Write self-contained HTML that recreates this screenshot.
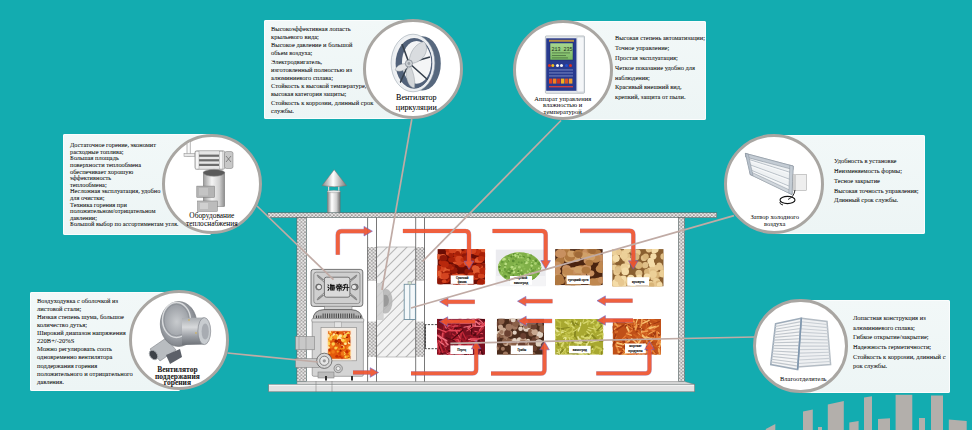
<!DOCTYPE html>
<html><head><meta charset="utf-8"><style>
*{margin:0;padding:0;box-sizing:border-box}
html,body{width:972px;height:430px;overflow:hidden;background:#13acb0;font-family:"Liberation Serif",serif}
.box{position:absolute;background:linear-gradient(180deg,#f2f8f8 0%,#edf5f5 100%);border-radius:2px;box-shadow:inset 0 0 0 1px #fbfdfd}
.circ{position:absolute;border-radius:50%;background:#fff;border:3.1px solid #a9a6a2}
.t{position:absolute;white-space:nowrap}
svg{position:absolute;left:0;top:0}
</style></head><body>
<svg width="972" height="430" style="z-index:0"><polygon points="765.8,429 775.3,424 775.3,431 765.8,431" fill="#b3afab"/>
<polygon points="803,411.5 812.8,409.4 812.8,431 803,431" fill="#b3afab"/>
<polygon points="818,427 822,427 822,431 818,431" fill="#b3afab"/>
<polygon points="827.8,404.6 843.8,401 843.8,431 827.8,431" fill="#b3afab"/>
<polygon points="849.3,422.5 858.6,421 858.6,431 849.3,431" fill="#b3afab"/>
<polygon points="864,397.4 872,396.2 872,431 864,431" fill="#b3afab"/>
<polygon points="878,419 890,418.2 890,431 878,431" fill="#b3afab"/>
<polygon points="895.6,394.8 912.3,394.8 912.3,431 895.6,431" fill="#b3afab"/>
<polygon points="919,418 925,418 925,431 919,431" fill="#b3afab"/>
<polygon points="931,395.5 943,395.5 943,431 931,431" fill="#b3afab"/>
<polygon points="948.8,419.4 966.7,421 966.7,431 948.8,431" fill="#b3afab"/><defs>
<pattern id="dots" width="3.6" height="3.4" patternUnits="userSpaceOnUse">
<rect width="3.6" height="3.4" fill="#b8b6b4"/>
<circle cx="0.9" cy="0.85" r="1.3" fill="#fdfdfd" stroke="#5e5c5a" stroke-width="0.35"/><circle cx="2.7" cy="2.55" r="1.3" fill="#fdfdfd" stroke="#5e5c5a" stroke-width="0.35"/>
</pattern>
<pattern id="hatch" width="7" height="7" patternUnits="userSpaceOnUse" patternTransform="rotate(45)">
<rect width="7" height="7" fill="#f2f2f2"/>
<line x1="0" y1="0" x2="0" y2="7" stroke="#5e5e5e" stroke-width="0.85"/>
</pattern>
<linearGradient id="cyl" x1="0" x2="1" y1="0" y2="0">
<stop offset="0" stop-color="#7a7a7a"/><stop offset="0.35" stop-color="#ffffff"/><stop offset="0.7" stop-color="#d0d0d0"/><stop offset="1" stop-color="#6a6a6a"/>
</linearGradient>
<linearGradient id="cone" x1="0" x2="1" y1="0" y2="0">
<stop offset="0" stop-color="#8a8a8a"/><stop offset="0.45" stop-color="#ffffff"/><stop offset="1" stop-color="#7a7a7a"/>
</linearGradient>
<radialGradient id="fire" cx="0.5" cy="0.5" r="0.5">
<stop offset="0" stop-color="#d83000"/><stop offset="0.5" stop-color="#f07000"/><stop offset="0.85" stop-color="#f8b040"/><stop offset="1" stop-color="#fbe8c8"/>
</radialGradient>
</defs>
<rect x="306.5" y="217.5" width="372.2" height="165" fill="#ffffff"/>
<rect x="328" y="185" width="1.2" height="8" fill="#d8d8d8"/><rect x="338.2" y="185" width="1.2" height="8" fill="#d8d8d8"/>
<rect x="327.2" y="191.3" width="13.2" height="21.5" fill="url(#cyl)"/>
<ellipse cx="333.8" cy="191.5" rx="6.6" ry="1.2" fill="#e8e8e8" stroke="#888" stroke-width="0.4"/>
<path d="M334.2,169.7 L346.5,185.6 Q334.3,188 322.1,185.6 Z" fill="url(#cone)" stroke="#8a6a66" stroke-width="0.5"/>
<rect x="267.8" y="212.8" width="449" height="4.9" fill="url(#dots)" stroke="#555" stroke-width="0.5"/>
<rect x="296.9" y="217.6" width="9.7" height="164" fill="url(#dots)" stroke="#555" stroke-width="0.5"/>
<rect x="678.4" y="217.6" width="6.3" height="164" fill="url(#dots)" stroke="#555" stroke-width="0.5"/>
<polygon points="297,381.6 684.8,381.6 694.7,384.4 297,384.4" fill="#dadada" stroke="#777" stroke-width="0.5"/>
<rect x="268.7" y="384.4" width="426" height="7.4" fill="#e2e2e2" stroke="#777" stroke-width="0.6"/>
<line x1="269" y1="385.3" x2="694" y2="385.3" stroke="#f8f8f8" stroke-width="1"/>
<rect x="376.6" y="247" width="39" height="110" fill="url(#hatch)"/>
<line x1="376.6" y1="247" x2="415.6" y2="247" stroke="#aaa" stroke-width="0.7"/>
<line x1="376.6" y1="357" x2="415.6" y2="357" stroke="#aaa" stroke-width="0.7"/>
<rect x="367.6" y="247" width="8.9" height="33.8" fill="url(#dots)"/>
<rect x="367.6" y="321.6" width="8.9" height="35.4" fill="url(#dots)"/>
<rect x="415.7" y="247" width="8.8" height="33.8" fill="url(#dots)"/>
<rect x="415.7" y="321.6" width="8.8" height="35.4" fill="url(#dots)"/>
<line x1="367.6" y1="217.6" x2="367.6" y2="381.6" stroke="#555" stroke-width="0.8"/>
<line x1="376.5" y1="217.6" x2="376.5" y2="381.6" stroke="#555" stroke-width="0.8"/>
<line x1="415.7" y1="217.6" x2="415.7" y2="381.6" stroke="#555" stroke-width="0.8"/>
<line x1="424.5" y1="217.6" x2="424.5" y2="381.6" stroke="#555" stroke-width="0.8"/>
<rect x="376.7" y="283" width="7" height="37" fill="#cfcfcf" opacity="0.85"/>
<path d="M383,290 Q388,287 391,293 Q394,301 391,309 Q388,315 383,313 Z" fill="#b4b4b4" opacity="0.85"/>
<path d="M384,295 Q388,294 389,300 Q389,306 384,307 Z" fill="#8c8c8c" opacity="0.7"/>
<rect x="404.2" y="284.3" width="11.2" height="35.2" fill="#f4f8fa" stroke="#6f8f9f" stroke-width="0.9"/>
<line x1="409.8" y1="284.3" x2="409.8" y2="319.5" stroke="#6f8f9f" stroke-width="0.8"/>
<rect x="408" y="281.5" width="3.5" height="3" fill="#cfe0c8" stroke="#889" stroke-width="0.4"/>
<path d="M437,324.6 L425.3,324.6 L425.3,348.7 L437,348.7" fill="none" stroke="#333" stroke-width="0.9" stroke-dasharray="2.2,1.3"/>
<line x1="425.3" y1="324.6" x2="425.3" y2="348.7" stroke="#333" stroke-width="0.8"/>
<clipPath id="cp1"><rect x="437.4" y="249.1" width="47.7" height="35.3"/></clipPath><g clip-path="url(#cp1)"><rect x="437.4" y="249.1" width="47.7" height="35.3" fill="#6a0c04"/><ellipse cx="443.8" cy="279.0" rx="3.8" ry="3.0" fill="#d44420"/><ellipse cx="443.0" cy="276.0" rx="3.2" ry="2.6" fill="#901808"/><ellipse cx="475.0" cy="252.4" rx="2.3" ry="1.8" fill="#901808"/><ellipse cx="458.0" cy="276.0" rx="2.3" ry="1.8" fill="#901808"/><ellipse cx="450.1" cy="277.4" rx="3.4" ry="2.7" fill="#c03010"/><ellipse cx="480.4" cy="250.2" rx="2.3" ry="1.8" fill="#e05a30"/><ellipse cx="437.8" cy="280.2" rx="3.6" ry="2.9" fill="#901808"/><ellipse cx="472.0" cy="267.7" rx="3.8" ry="3.0" fill="#901808"/><ellipse cx="463.8" cy="261.3" rx="3.6" ry="2.9" fill="#901808"/><ellipse cx="482.8" cy="281.8" rx="3.1" ry="2.5" fill="#e05a30"/><ellipse cx="481.4" cy="252.6" rx="3.5" ry="2.8" fill="#b8280c"/><ellipse cx="478.4" cy="253.4" rx="2.9" ry="2.3" fill="#b8280c"/><ellipse cx="483.8" cy="266.8" rx="4.2" ry="3.3" fill="#e05a30"/><ellipse cx="477.0" cy="272.8" rx="2.9" ry="2.3" fill="#e05a30"/><ellipse cx="483.8" cy="266.7" rx="4.1" ry="3.3" fill="#901808"/><ellipse cx="465.5" cy="250.3" rx="2.7" ry="2.2" fill="#901808"/><ellipse cx="457.2" cy="255.2" rx="3.3" ry="2.7" fill="#b8280c"/><ellipse cx="474.4" cy="275.2" rx="2.4" ry="1.9" fill="#b8280c"/><ellipse cx="461.7" cy="276.6" rx="3.3" ry="2.6" fill="#901808"/><ellipse cx="455.1" cy="275.0" rx="3.2" ry="2.6" fill="#d44420"/><ellipse cx="471.0" cy="283.8" rx="3.4" ry="2.7" fill="#901808"/><ellipse cx="468.3" cy="255.1" rx="2.7" ry="2.2" fill="#c03010"/><ellipse cx="474.2" cy="268.1" rx="4.0" ry="3.2" fill="#a82008"/><ellipse cx="456.7" cy="261.2" rx="3.9" ry="3.2" fill="#d44420"/><ellipse cx="459.3" cy="258.6" rx="3.3" ry="2.7" fill="#b8280c"/><ellipse cx="437.7" cy="276.8" rx="3.9" ry="3.1" fill="#b8280c"/><ellipse cx="461.8" cy="253.7" rx="3.8" ry="3.0" fill="#a82008"/><ellipse cx="457.7" cy="251.1" rx="4.0" ry="3.2" fill="#e05a30"/><ellipse cx="463.8" cy="282.3" rx="3.1" ry="2.5" fill="#d44420"/><ellipse cx="457.2" cy="249.2" rx="3.3" ry="2.7" fill="#e05a30"/><ellipse cx="453.2" cy="270.3" rx="3.9" ry="3.1" fill="#b8280c"/><ellipse cx="445.9" cy="269.7" rx="4.0" ry="3.2" fill="#e05a30"/><ellipse cx="475.4" cy="277.9" rx="2.8" ry="2.2" fill="#b8280c"/><ellipse cx="440.8" cy="279.7" rx="3.2" ry="2.5" fill="#d44420"/><ellipse cx="449.3" cy="253.0" rx="3.5" ry="2.8" fill="#d44420"/><ellipse cx="451.2" cy="255.0" rx="2.8" ry="2.2" fill="#a82008"/><ellipse cx="468.7" cy="272.0" rx="2.8" ry="2.3" fill="#b8280c"/><ellipse cx="452.8" cy="265.8" rx="2.3" ry="1.8" fill="#901808"/><ellipse cx="453.8" cy="277.2" rx="2.8" ry="2.2" fill="#d44420"/><ellipse cx="480.3" cy="267.1" rx="2.7" ry="2.1" fill="#e05a30"/><ellipse cx="458.0" cy="283.5" rx="2.7" ry="2.2" fill="#901808"/><ellipse cx="444.4" cy="274.5" rx="2.6" ry="2.1" fill="#b8280c"/><ellipse cx="461.6" cy="264.2" rx="3.9" ry="3.1" fill="#b8280c"/><ellipse cx="475.5" cy="267.3" rx="2.7" ry="2.2" fill="#b8280c"/><ellipse cx="438.9" cy="272.9" rx="3.9" ry="3.1" fill="#b8280c"/><ellipse cx="467.5" cy="251.2" rx="2.8" ry="2.3" fill="#a82008"/><ellipse cx="479.2" cy="259.9" rx="4.0" ry="3.2" fill="#d44420"/><ellipse cx="481.1" cy="259.6" rx="2.6" ry="2.1" fill="#e05a30"/><ellipse cx="449.4" cy="249.4" rx="4.0" ry="3.2" fill="#c03010"/><ellipse cx="465.6" cy="256.8" rx="4.1" ry="3.2" fill="#901808"/><ellipse cx="445.6" cy="279.7" rx="4.2" ry="3.4" fill="#b8280c"/><ellipse cx="467.1" cy="250.4" rx="2.7" ry="2.1" fill="#c03010"/><ellipse cx="447.2" cy="272.9" rx="3.1" ry="2.5" fill="#a82008"/><ellipse cx="460.9" cy="282.2" rx="3.0" ry="2.4" fill="#e05a30"/><ellipse cx="461.2" cy="260.6" rx="4.0" ry="3.2" fill="#d44420"/><ellipse cx="438.3" cy="256.2" rx="2.9" ry="2.3" fill="#e05a30"/><ellipse cx="474.7" cy="261.1" rx="2.7" ry="2.1" fill="#b8280c"/><ellipse cx="442.0" cy="262.5" rx="3.3" ry="2.7" fill="#b8280c"/><ellipse cx="462.9" cy="276.2" rx="3.3" ry="2.7" fill="#c03010"/><ellipse cx="472.0" cy="252.1" rx="2.6" ry="2.1" fill="#e05a30"/><ellipse cx="447.6" cy="275.9" rx="3.5" ry="2.8" fill="#d44420"/><ellipse cx="455.0" cy="261.1" rx="2.8" ry="2.3" fill="#e05a30"/><ellipse cx="474.6" cy="274.3" rx="3.2" ry="2.6" fill="#e05a30"/><ellipse cx="463.7" cy="252.8" rx="2.3" ry="1.9" fill="#c03010"/><ellipse cx="455.5" cy="284.1" rx="2.5" ry="2.0" fill="#a82008"/><ellipse cx="453.7" cy="270.8" rx="3.8" ry="3.1" fill="#901808"/><ellipse cx="441.1" cy="268.5" rx="3.4" ry="2.7" fill="#d44420"/><ellipse cx="454.8" cy="259.5" rx="3.3" ry="2.7" fill="#c03010"/><ellipse cx="459.2" cy="258.9" rx="3.8" ry="3.1" fill="#d44420"/><ellipse cx="438.0" cy="272.8" rx="2.4" ry="1.9" fill="#c03010"/><ellipse cx="476.8" cy="277.0" rx="2.6" ry="2.1" fill="#e05a30"/><ellipse cx="457.5" cy="253.2" rx="2.6" ry="2.1" fill="#a82008"/><ellipse cx="445.0" cy="278.9" rx="3.1" ry="2.5" fill="#901808"/><ellipse cx="475.9" cy="268.3" rx="3.9" ry="3.1" fill="#e05a30"/><ellipse cx="449.5" cy="265.9" rx="2.5" ry="2.0" fill="#b8280c"/><ellipse cx="452.5" cy="250.1" rx="3.8" ry="3.1" fill="#d44420"/><ellipse cx="472.1" cy="260.4" rx="3.0" ry="2.4" fill="#901808"/><ellipse cx="440.4" cy="281.3" rx="4.2" ry="3.4" fill="#901808"/><ellipse cx="442.7" cy="256.7" rx="3.5" ry="2.8" fill="#e05a30"/><ellipse cx="478.8" cy="265.7" rx="3.0" ry="2.4" fill="#a82008"/><ellipse cx="463.2" cy="259.9" rx="2.7" ry="2.2" fill="#c03010"/><ellipse cx="476.5" cy="252.3" rx="3.8" ry="3.0" fill="#c03010"/><ellipse cx="468.5" cy="271.8" rx="4.1" ry="3.3" fill="#901808"/><ellipse cx="483.5" cy="250.5" rx="2.6" ry="2.1" fill="#e05a30"/><ellipse cx="480.0" cy="259.8" rx="2.9" ry="2.3" fill="#e05a30"/><ellipse cx="466.6" cy="277.6" rx="2.4" ry="1.9" fill="#a82008"/><ellipse cx="438.4" cy="257.7" rx="2.4" ry="1.9" fill="#e05a30"/><ellipse cx="478.8" cy="274.8" rx="2.3" ry="1.8" fill="#c03010"/><ellipse cx="451.3" cy="277.1" rx="3.2" ry="2.6" fill="#a82008"/><ellipse cx="442.2" cy="276.6" rx="2.9" ry="2.3" fill="#e05a30"/><ellipse cx="482.7" cy="255.2" rx="3.8" ry="3.0" fill="#a82008"/><ellipse cx="476.6" cy="260.4" rx="2.5" ry="2.0" fill="#e05a30"/><ellipse cx="477.2" cy="270.3" rx="2.5" ry="2.0" fill="#a82008"/><ellipse cx="444.2" cy="281.2" rx="2.3" ry="1.9" fill="#d44420"/><ellipse cx="476.6" cy="271.1" rx="3.6" ry="2.9" fill="#e05a30"/><ellipse cx="477.5" cy="275.4" rx="3.6" ry="2.9" fill="#a82008"/><ellipse cx="451.7" cy="268.1" rx="2.3" ry="1.9" fill="#b8280c"/><ellipse cx="449.2" cy="276.6" rx="3.6" ry="2.9" fill="#901808"/><ellipse cx="476.0" cy="268.5" rx="3.3" ry="2.7" fill="#e05a30"/><ellipse cx="459.0" cy="263.1" rx="2.9" ry="2.3" fill="#d44420"/><ellipse cx="460.6" cy="277.1" rx="4.1" ry="3.3" fill="#e05a30"/><ellipse cx="438.3" cy="273.5" rx="3.4" ry="2.7" fill="#e05a30"/><ellipse cx="443.4" cy="258.2" rx="3.9" ry="3.1" fill="#901808"/><ellipse cx="464.3" cy="255.2" rx="2.4" ry="1.9" fill="#901808"/><ellipse cx="437.8" cy="267.8" rx="3.3" ry="2.6" fill="#b8280c"/><ellipse cx="481.3" cy="281.9" rx="3.5" ry="2.8" fill="#a82008"/><ellipse cx="448.8" cy="266.6" rx="3.2" ry="2.6" fill="#a82008"/><ellipse cx="471.4" cy="261.0" rx="3.5" ry="2.8" fill="#b8280c"/><ellipse cx="481.2" cy="258.8" rx="3.5" ry="2.8" fill="#c03010"/><ellipse cx="481.4" cy="276.0" rx="3.5" ry="2.8" fill="#d44420"/><ellipse cx="445.0" cy="276.1" rx="4.0" ry="3.2" fill="#d44420"/><ellipse cx="451.6" cy="259.7" rx="3.4" ry="2.7" fill="#a82008"/><ellipse cx="470.9" cy="275.1" rx="3.4" ry="2.8" fill="#c03010"/><ellipse cx="480.2" cy="283.0" rx="3.4" ry="2.7" fill="#a82008"/><ellipse cx="444.8" cy="264.2" rx="4.1" ry="3.3" fill="#b8280c"/><ellipse cx="473.5" cy="250.9" rx="3.6" ry="2.9" fill="#b8280c"/><ellipse cx="467.8" cy="262.7" rx="3.9" ry="3.2" fill="#e05a30"/><ellipse cx="472.2" cy="250.5" rx="4.2" ry="3.4" fill="#d44420"/><ellipse cx="467.4" cy="258.5" rx="4.1" ry="3.3" fill="#a82008"/><ellipse cx="483.6" cy="270.9" rx="4.2" ry="3.3" fill="#b8280c"/></g>
<rect x="495.8" y="249.6" width="49.9" height="36.5" fill="#ebebef"/>
<rect x="495.8" y="276" width="49.9" height="10.1" fill="#f4f4f6"/>
<clipPath id="cpg"><ellipse cx="519.6" cy="267.5" rx="21.6" ry="15.2"/></clipPath>
<clipPath id="cp2"><rect x="497" y="250" width="46" height="32"/></clipPath><g clip-path="url(#cpg)"><rect x="497" y="250" width="46" height="32" fill="#80b048"/><ellipse cx="541.0" cy="280.3" rx="0.7" ry="0.7" fill="#a8d070"/><ellipse cx="513.6" cy="255.4" rx="1.3" ry="1.3" fill="#bce084"/><ellipse cx="508.6" cy="256.8" rx="0.7" ry="0.7" fill="#689c38"/><ellipse cx="543.0" cy="270.4" rx="1.3" ry="1.3" fill="#5a8c30"/><ellipse cx="540.7" cy="267.4" rx="1.1" ry="1.1" fill="#bce084"/><ellipse cx="538.5" cy="277.9" rx="1.0" ry="1.0" fill="#bce084"/><ellipse cx="538.8" cy="263.6" rx="1.4" ry="1.4" fill="#689c38"/><ellipse cx="522.8" cy="257.6" rx="0.7" ry="0.7" fill="#bce084"/><ellipse cx="505.0" cy="266.3" rx="1.0" ry="1.0" fill="#5a8c30"/><ellipse cx="528.0" cy="255.8" rx="1.4" ry="1.4" fill="#8cbc54"/><ellipse cx="530.8" cy="279.0" rx="1.3" ry="1.3" fill="#5a8c30"/><ellipse cx="513.3" cy="281.4" rx="1.5" ry="1.5" fill="#689c38"/><ellipse cx="540.9" cy="262.8" rx="1.3" ry="1.3" fill="#5a8c30"/><ellipse cx="508.5" cy="258.9" rx="1.1" ry="1.1" fill="#5a8c30"/><ellipse cx="535.3" cy="261.3" rx="1.4" ry="1.4" fill="#8cbc54"/><ellipse cx="513.1" cy="273.2" rx="1.1" ry="1.1" fill="#8cbc54"/><ellipse cx="519.4" cy="257.1" rx="1.0" ry="1.0" fill="#689c38"/><ellipse cx="537.3" cy="269.7" rx="1.3" ry="1.3" fill="#8cbc54"/><ellipse cx="511.2" cy="280.6" rx="1.3" ry="1.3" fill="#5a8c30"/><ellipse cx="522.9" cy="266.2" rx="1.2" ry="1.2" fill="#8cbc54"/><ellipse cx="511.3" cy="256.7" rx="1.1" ry="1.1" fill="#5a8c30"/><ellipse cx="537.6" cy="275.1" rx="1.0" ry="1.0" fill="#a8d070"/><ellipse cx="538.8" cy="256.1" rx="1.3" ry="1.3" fill="#a8d070"/><ellipse cx="523.4" cy="251.6" rx="1.2" ry="1.2" fill="#a8d070"/><ellipse cx="531.7" cy="254.4" rx="0.9" ry="0.9" fill="#689c38"/><ellipse cx="540.4" cy="251.9" rx="1.4" ry="1.4" fill="#a8d070"/><ellipse cx="499.6" cy="261.5" rx="0.9" ry="0.9" fill="#a8d070"/><ellipse cx="500.8" cy="280.5" rx="0.7" ry="0.7" fill="#a8d070"/><ellipse cx="514.2" cy="254.1" rx="1.4" ry="1.4" fill="#689c38"/><ellipse cx="521.1" cy="250.1" rx="1.2" ry="1.2" fill="#689c38"/><ellipse cx="504.0" cy="251.2" rx="1.0" ry="1.0" fill="#5a8c30"/><ellipse cx="525.9" cy="273.9" rx="0.9" ry="0.9" fill="#8cbc54"/><ellipse cx="498.4" cy="264.4" rx="1.3" ry="1.3" fill="#a8d070"/><ellipse cx="538.5" cy="274.2" rx="1.4" ry="1.4" fill="#689c38"/><ellipse cx="518.7" cy="257.2" rx="1.2" ry="1.2" fill="#bce084"/><ellipse cx="535.6" cy="250.8" rx="1.3" ry="1.3" fill="#689c38"/><ellipse cx="520.8" cy="275.0" rx="1.1" ry="1.1" fill="#bce084"/><ellipse cx="503.6" cy="280.7" rx="0.9" ry="0.9" fill="#5a8c30"/><ellipse cx="541.7" cy="270.9" rx="1.3" ry="1.3" fill="#689c38"/><ellipse cx="527.8" cy="258.1" rx="0.8" ry="0.8" fill="#689c38"/><ellipse cx="501.4" cy="270.3" rx="1.1" ry="1.1" fill="#a8d070"/><ellipse cx="542.7" cy="257.4" rx="1.1" ry="1.1" fill="#bce084"/><ellipse cx="500.7" cy="257.3" rx="1.3" ry="1.3" fill="#5a8c30"/><ellipse cx="529.6" cy="258.2" rx="1.0" ry="1.0" fill="#5a8c30"/><ellipse cx="531.5" cy="254.8" rx="1.0" ry="1.0" fill="#689c38"/><ellipse cx="502.1" cy="273.2" rx="0.9" ry="0.9" fill="#a8d070"/><ellipse cx="497.9" cy="274.0" rx="0.8" ry="0.8" fill="#a8d070"/><ellipse cx="521.0" cy="264.9" rx="0.9" ry="0.9" fill="#8cbc54"/><ellipse cx="506.8" cy="279.0" rx="1.5" ry="1.5" fill="#8cbc54"/><ellipse cx="516.6" cy="250.7" rx="1.2" ry="1.2" fill="#8cbc54"/><ellipse cx="539.7" cy="268.6" rx="1.4" ry="1.4" fill="#8cbc54"/><ellipse cx="513.8" cy="266.6" rx="1.4" ry="1.4" fill="#5a8c30"/><ellipse cx="513.9" cy="272.1" rx="1.4" ry="1.4" fill="#bce084"/><ellipse cx="497.9" cy="271.9" rx="0.8" ry="0.8" fill="#bce084"/><ellipse cx="506.1" cy="274.8" rx="1.4" ry="1.4" fill="#8cbc54"/><ellipse cx="499.8" cy="270.4" rx="1.1" ry="1.1" fill="#5a8c30"/><ellipse cx="525.2" cy="250.2" rx="0.7" ry="0.7" fill="#bce084"/><ellipse cx="540.0" cy="252.4" rx="1.3" ry="1.3" fill="#689c38"/><ellipse cx="502.3" cy="261.9" rx="1.3" ry="1.3" fill="#689c38"/><ellipse cx="531.7" cy="262.6" rx="0.8" ry="0.8" fill="#a8d070"/><ellipse cx="502.7" cy="269.7" rx="1.0" ry="1.0" fill="#8cbc54"/><ellipse cx="541.1" cy="272.2" rx="0.7" ry="0.7" fill="#8cbc54"/><ellipse cx="532.8" cy="273.2" rx="1.1" ry="1.1" fill="#bce084"/><ellipse cx="541.1" cy="254.5" rx="1.0" ry="1.0" fill="#8cbc54"/><ellipse cx="521.2" cy="265.3" rx="1.5" ry="1.5" fill="#8cbc54"/><ellipse cx="539.9" cy="276.8" rx="0.9" ry="0.9" fill="#689c38"/><ellipse cx="504.2" cy="269.1" rx="1.1" ry="1.1" fill="#a8d070"/><ellipse cx="524.0" cy="276.2" rx="0.8" ry="0.8" fill="#bce084"/><ellipse cx="505.1" cy="267.4" rx="1.3" ry="1.3" fill="#a8d070"/><ellipse cx="533.7" cy="279.2" rx="1.2" ry="1.2" fill="#a8d070"/><ellipse cx="502.9" cy="259.5" rx="0.9" ry="0.9" fill="#bce084"/><ellipse cx="517.2" cy="266.8" rx="0.8" ry="0.8" fill="#5a8c30"/><ellipse cx="542.4" cy="281.0" rx="1.0" ry="1.0" fill="#bce084"/><ellipse cx="520.8" cy="272.9" rx="0.9" ry="0.9" fill="#689c38"/><ellipse cx="518.2" cy="272.5" rx="1.0" ry="1.0" fill="#bce084"/><ellipse cx="533.0" cy="268.4" rx="0.8" ry="0.8" fill="#8cbc54"/><ellipse cx="530.1" cy="275.9" rx="1.0" ry="1.0" fill="#689c38"/><ellipse cx="515.1" cy="251.7" rx="0.9" ry="0.9" fill="#bce084"/><ellipse cx="529.7" cy="280.0" rx="1.3" ry="1.3" fill="#8cbc54"/><ellipse cx="513.6" cy="267.5" rx="1.3" ry="1.3" fill="#a8d070"/><ellipse cx="532.0" cy="277.3" rx="0.9" ry="0.9" fill="#5a8c30"/><ellipse cx="505.6" cy="276.1" rx="1.0" ry="1.0" fill="#a8d070"/><ellipse cx="511.4" cy="266.8" rx="1.4" ry="1.4" fill="#8cbc54"/><ellipse cx="526.9" cy="276.1" rx="0.7" ry="0.7" fill="#689c38"/><ellipse cx="530.6" cy="269.4" rx="1.4" ry="1.4" fill="#a8d070"/><ellipse cx="514.9" cy="267.8" rx="1.3" ry="1.3" fill="#bce084"/><ellipse cx="531.2" cy="268.8" rx="0.9" ry="0.9" fill="#5a8c30"/><ellipse cx="503.3" cy="269.6" rx="1.0" ry="1.0" fill="#bce084"/><ellipse cx="520.6" cy="255.6" rx="1.3" ry="1.3" fill="#a8d070"/><ellipse cx="513.1" cy="279.0" rx="1.1" ry="1.1" fill="#a8d070"/><ellipse cx="531.7" cy="265.5" rx="1.2" ry="1.2" fill="#bce084"/><ellipse cx="518.1" cy="278.1" rx="1.1" ry="1.1" fill="#a8d070"/><ellipse cx="525.2" cy="261.1" rx="1.3" ry="1.3" fill="#8cbc54"/><ellipse cx="508.7" cy="270.0" rx="1.4" ry="1.4" fill="#689c38"/><ellipse cx="499.5" cy="266.0" rx="1.5" ry="1.5" fill="#bce084"/><ellipse cx="504.2" cy="259.0" rx="1.1" ry="1.1" fill="#a8d070"/><ellipse cx="513.9" cy="267.2" rx="1.0" ry="1.0" fill="#8cbc54"/><ellipse cx="506.4" cy="271.6" rx="1.1" ry="1.1" fill="#689c38"/><ellipse cx="519.3" cy="267.2" rx="1.4" ry="1.4" fill="#a8d070"/><ellipse cx="508.9" cy="260.0" rx="1.0" ry="1.0" fill="#bce084"/><ellipse cx="527.1" cy="262.6" rx="1.4" ry="1.4" fill="#a8d070"/><ellipse cx="520.4" cy="256.7" rx="1.2" ry="1.2" fill="#689c38"/><ellipse cx="533.7" cy="270.1" rx="0.9" ry="0.9" fill="#689c38"/><ellipse cx="540.7" cy="268.0" rx="1.1" ry="1.1" fill="#a8d070"/><ellipse cx="541.1" cy="253.6" rx="1.4" ry="1.4" fill="#8cbc54"/><ellipse cx="536.4" cy="256.8" rx="1.0" ry="1.0" fill="#bce084"/><ellipse cx="518.0" cy="255.3" rx="1.1" ry="1.1" fill="#bce084"/><ellipse cx="518.2" cy="254.3" rx="1.3" ry="1.3" fill="#689c38"/><ellipse cx="539.8" cy="260.4" rx="0.8" ry="0.8" fill="#689c38"/><ellipse cx="518.6" cy="274.1" rx="1.4" ry="1.4" fill="#689c38"/><ellipse cx="513.4" cy="275.4" rx="0.9" ry="0.9" fill="#5a8c30"/><ellipse cx="526.1" cy="262.8" rx="1.4" ry="1.4" fill="#bce084"/><ellipse cx="509.9" cy="273.0" rx="1.2" ry="1.2" fill="#5a8c30"/><ellipse cx="528.7" cy="280.4" rx="1.3" ry="1.3" fill="#bce084"/><ellipse cx="521.5" cy="270.4" rx="0.8" ry="0.8" fill="#bce084"/><ellipse cx="515.2" cy="255.6" rx="1.5" ry="1.5" fill="#bce084"/><ellipse cx="517.3" cy="252.8" rx="1.4" ry="1.4" fill="#bce084"/><ellipse cx="541.2" cy="254.1" rx="0.7" ry="0.7" fill="#bce084"/><ellipse cx="504.7" cy="252.5" rx="1.4" ry="1.4" fill="#8cbc54"/><ellipse cx="497.4" cy="260.3" rx="1.4" ry="1.4" fill="#5a8c30"/><ellipse cx="514.9" cy="259.1" rx="1.2" ry="1.2" fill="#689c38"/><ellipse cx="513.6" cy="256.5" rx="1.1" ry="1.1" fill="#689c38"/><ellipse cx="533.1" cy="260.6" rx="0.8" ry="0.8" fill="#bce084"/><ellipse cx="508.5" cy="261.0" rx="0.9" ry="0.9" fill="#689c38"/><ellipse cx="530.5" cy="251.5" rx="1.5" ry="1.5" fill="#5a8c30"/><ellipse cx="499.8" cy="254.6" rx="1.4" ry="1.4" fill="#8cbc54"/><ellipse cx="517.4" cy="258.7" rx="1.0" ry="1.0" fill="#5a8c30"/><ellipse cx="535.9" cy="260.8" rx="1.3" ry="1.3" fill="#5a8c30"/><ellipse cx="541.0" cy="257.3" rx="0.7" ry="0.7" fill="#8cbc54"/><ellipse cx="519.5" cy="277.9" rx="1.1" ry="1.1" fill="#5a8c30"/><ellipse cx="524.5" cy="268.8" rx="1.1" ry="1.1" fill="#8cbc54"/><ellipse cx="542.5" cy="276.9" rx="1.1" ry="1.1" fill="#8cbc54"/><ellipse cx="514.8" cy="264.5" rx="1.4" ry="1.4" fill="#8cbc54"/><ellipse cx="542.8" cy="254.1" rx="1.4" ry="1.4" fill="#5a8c30"/><ellipse cx="539.1" cy="252.5" rx="0.9" ry="0.9" fill="#a8d070"/><ellipse cx="508.6" cy="271.4" rx="0.9" ry="0.9" fill="#a8d070"/><ellipse cx="503.8" cy="271.4" rx="0.8" ry="0.8" fill="#8cbc54"/><ellipse cx="499.3" cy="278.8" rx="0.9" ry="0.9" fill="#8cbc54"/><ellipse cx="503.4" cy="251.0" rx="1.3" ry="1.3" fill="#5a8c30"/><ellipse cx="499.8" cy="256.4" rx="1.4" ry="1.4" fill="#5a8c30"/><ellipse cx="512.5" cy="266.9" rx="0.9" ry="0.9" fill="#bce084"/><ellipse cx="519.6" cy="254.2" rx="0.8" ry="0.8" fill="#a8d070"/><ellipse cx="518.5" cy="275.5" rx="1.2" ry="1.2" fill="#8cbc54"/><ellipse cx="512.5" cy="270.7" rx="1.0" ry="1.0" fill="#5a8c30"/><ellipse cx="520.3" cy="279.3" rx="0.8" ry="0.8" fill="#a8d070"/><ellipse cx="535.3" cy="254.8" rx="1.5" ry="1.5" fill="#689c38"/><ellipse cx="514.4" cy="259.5" rx="1.0" ry="1.0" fill="#8cbc54"/><ellipse cx="503.0" cy="260.0" rx="0.9" ry="0.9" fill="#a8d070"/><ellipse cx="522.9" cy="265.1" rx="0.9" ry="0.9" fill="#8cbc54"/><ellipse cx="542.4" cy="257.3" rx="1.3" ry="1.3" fill="#5a8c30"/><ellipse cx="527.3" cy="251.0" rx="1.1" ry="1.1" fill="#689c38"/><ellipse cx="506.8" cy="262.5" rx="0.7" ry="0.7" fill="#689c38"/><ellipse cx="525.8" cy="273.8" rx="1.3" ry="1.3" fill="#8cbc54"/><ellipse cx="521.8" cy="273.6" rx="1.4" ry="1.4" fill="#689c38"/><ellipse cx="535.4" cy="269.1" rx="0.7" ry="0.7" fill="#689c38"/><ellipse cx="542.9" cy="254.5" rx="1.3" ry="1.3" fill="#689c38"/><ellipse cx="532.1" cy="253.0" rx="1.2" ry="1.2" fill="#8cbc54"/><ellipse cx="526.0" cy="280.8" rx="0.8" ry="0.8" fill="#bce084"/><ellipse cx="529.2" cy="258.9" rx="1.4" ry="1.4" fill="#5a8c30"/><ellipse cx="500.1" cy="278.7" rx="1.2" ry="1.2" fill="#a8d070"/><ellipse cx="517.9" cy="271.1" rx="0.8" ry="0.8" fill="#bce084"/><ellipse cx="540.4" cy="250.5" rx="1.0" ry="1.0" fill="#bce084"/><ellipse cx="521.7" cy="262.6" rx="1.1" ry="1.1" fill="#689c38"/><ellipse cx="516.8" cy="254.1" rx="0.8" ry="0.8" fill="#8cbc54"/><ellipse cx="537.1" cy="281.1" rx="1.0" ry="1.0" fill="#5a8c30"/><ellipse cx="508.7" cy="256.1" rx="1.1" ry="1.1" fill="#689c38"/><ellipse cx="531.7" cy="277.2" rx="1.0" ry="1.0" fill="#a8d070"/><ellipse cx="504.8" cy="269.4" rx="1.4" ry="1.4" fill="#689c38"/><ellipse cx="532.4" cy="270.9" rx="1.2" ry="1.2" fill="#689c38"/><ellipse cx="528.4" cy="259.9" rx="0.9" ry="0.9" fill="#bce084"/><ellipse cx="501.5" cy="275.2" rx="0.7" ry="0.7" fill="#bce084"/><ellipse cx="499.7" cy="267.1" rx="1.3" ry="1.3" fill="#bce084"/><ellipse cx="534.8" cy="252.3" rx="1.1" ry="1.1" fill="#a8d070"/><ellipse cx="510.0" cy="268.4" rx="0.9" ry="0.9" fill="#689c38"/><ellipse cx="524.9" cy="262.0" rx="0.8" ry="0.8" fill="#5a8c30"/><ellipse cx="517.6" cy="258.9" rx="0.8" ry="0.8" fill="#8cbc54"/><ellipse cx="533.8" cy="279.3" rx="0.8" ry="0.8" fill="#bce084"/><ellipse cx="536.1" cy="277.4" rx="0.9" ry="0.9" fill="#5a8c30"/><ellipse cx="529.4" cy="278.0" rx="1.2" ry="1.2" fill="#8cbc54"/><ellipse cx="521.1" cy="257.5" rx="0.9" ry="0.9" fill="#a8d070"/><ellipse cx="509.0" cy="258.0" rx="1.5" ry="1.5" fill="#8cbc54"/><ellipse cx="534.9" cy="253.8" rx="1.1" ry="1.1" fill="#8cbc54"/><ellipse cx="518.8" cy="262.2" rx="0.9" ry="0.9" fill="#689c38"/><ellipse cx="499.5" cy="266.8" rx="1.4" ry="1.4" fill="#5a8c30"/><ellipse cx="540.5" cy="271.6" rx="0.7" ry="0.7" fill="#8cbc54"/><ellipse cx="515.5" cy="266.5" rx="0.8" ry="0.8" fill="#5a8c30"/><ellipse cx="513.6" cy="280.1" rx="1.1" ry="1.1" fill="#a8d070"/><ellipse cx="529.4" cy="273.5" rx="0.9" ry="0.9" fill="#a8d070"/><ellipse cx="498.4" cy="251.3" rx="1.2" ry="1.2" fill="#689c38"/><ellipse cx="511.8" cy="267.2" rx="1.2" ry="1.2" fill="#bce084"/><ellipse cx="540.4" cy="253.3" rx="1.1" ry="1.1" fill="#a8d070"/><ellipse cx="528.2" cy="254.4" rx="1.3" ry="1.3" fill="#a8d070"/><ellipse cx="511.3" cy="271.1" rx="1.1" ry="1.1" fill="#5a8c30"/><ellipse cx="513.3" cy="260.9" rx="1.4" ry="1.4" fill="#5a8c30"/><ellipse cx="513.5" cy="269.5" rx="1.0" ry="1.0" fill="#bce084"/><ellipse cx="534.0" cy="278.7" rx="1.1" ry="1.1" fill="#689c38"/><ellipse cx="498.2" cy="260.9" rx="1.4" ry="1.4" fill="#a8d070"/><ellipse cx="513.1" cy="281.2" rx="1.1" ry="1.1" fill="#a8d070"/><ellipse cx="536.7" cy="252.5" rx="1.1" ry="1.1" fill="#5a8c30"/><ellipse cx="532.4" cy="263.7" rx="0.9" ry="0.9" fill="#689c38"/><ellipse cx="504.5" cy="251.4" rx="1.2" ry="1.2" fill="#bce084"/><ellipse cx="528.0" cy="259.4" rx="1.4" ry="1.4" fill="#a8d070"/><ellipse cx="541.5" cy="268.1" rx="1.4" ry="1.4" fill="#689c38"/><ellipse cx="515.5" cy="279.1" rx="0.8" ry="0.8" fill="#5a8c30"/><ellipse cx="539.0" cy="257.8" rx="1.1" ry="1.1" fill="#a8d070"/><ellipse cx="497.3" cy="263.0" rx="1.1" ry="1.1" fill="#bce084"/><ellipse cx="523.8" cy="257.1" rx="1.1" ry="1.1" fill="#5a8c30"/><ellipse cx="539.4" cy="263.7" rx="1.3" ry="1.3" fill="#689c38"/><ellipse cx="516.6" cy="264.7" rx="1.0" ry="1.0" fill="#5a8c30"/><ellipse cx="505.4" cy="276.2" rx="1.5" ry="1.5" fill="#5a8c30"/><ellipse cx="540.7" cy="275.6" rx="1.2" ry="1.2" fill="#689c38"/><ellipse cx="519.8" cy="281.7" rx="1.4" ry="1.4" fill="#689c38"/><ellipse cx="498.1" cy="272.6" rx="1.5" ry="1.5" fill="#8cbc54"/><ellipse cx="523.2" cy="258.0" rx="1.1" ry="1.1" fill="#8cbc54"/><ellipse cx="505.7" cy="263.9" rx="1.3" ry="1.3" fill="#bce084"/><ellipse cx="531.5" cy="280.5" rx="1.4" ry="1.4" fill="#5a8c30"/><ellipse cx="535.4" cy="263.6" rx="1.4" ry="1.4" fill="#a8d070"/><ellipse cx="541.7" cy="267.5" rx="1.2" ry="1.2" fill="#bce084"/><ellipse cx="508.4" cy="272.8" rx="1.0" ry="1.0" fill="#5a8c30"/><ellipse cx="518.2" cy="271.2" rx="1.1" ry="1.1" fill="#5a8c30"/><ellipse cx="504.3" cy="259.2" rx="1.4" ry="1.4" fill="#bce084"/><ellipse cx="516.3" cy="266.2" rx="1.4" ry="1.4" fill="#8cbc54"/><ellipse cx="502.4" cy="269.1" rx="1.2" ry="1.2" fill="#8cbc54"/><ellipse cx="501.1" cy="273.7" rx="1.4" ry="1.4" fill="#8cbc54"/><ellipse cx="525.3" cy="274.5" rx="1.3" ry="1.3" fill="#bce084"/><ellipse cx="539.0" cy="267.8" rx="0.8" ry="0.8" fill="#689c38"/><ellipse cx="527.6" cy="270.8" rx="1.0" ry="1.0" fill="#8cbc54"/><ellipse cx="529.6" cy="273.1" rx="0.8" ry="0.8" fill="#bce084"/><ellipse cx="538.9" cy="268.3" rx="1.0" ry="1.0" fill="#bce084"/><ellipse cx="527.8" cy="271.4" rx="1.0" ry="1.0" fill="#a8d070"/></g>
<clipPath id="cp3"><rect x="555.1" y="249.1" width="47.7" height="36.1"/></clipPath><g clip-path="url(#cp3)"><rect x="555.1" y="249.1" width="47.7" height="36.1" fill="#4a2410"/><ellipse cx="566.5" cy="268.7" rx="4.4" ry="3.6" fill="#c89060"/><ellipse cx="577.7" cy="270.1" rx="4.9" ry="3.9" fill="#a06a38"/><ellipse cx="567.5" cy="257.6" rx="5.6" ry="4.5" fill="#a06a38"/><ellipse cx="580.9" cy="268.9" rx="4.5" ry="3.6" fill="#b07840"/><ellipse cx="566.2" cy="254.6" rx="5.5" ry="4.4" fill="#a06a38"/><ellipse cx="590.5" cy="273.3" rx="3.9" ry="3.1" fill="#c89060"/><ellipse cx="557.1" cy="277.3" rx="5.3" ry="4.2" fill="#d0a068"/><ellipse cx="577.7" cy="275.0" rx="5.4" ry="4.3" fill="#a06a38"/><ellipse cx="573.9" cy="278.0" rx="4.6" ry="3.7" fill="#b07840"/><ellipse cx="597.0" cy="252.6" rx="4.0" ry="3.2" fill="#b07840"/><ellipse cx="567.4" cy="273.4" rx="5.2" ry="4.2" fill="#d0a068"/><ellipse cx="575.2" cy="279.2" rx="4.8" ry="3.9" fill="#c89060"/><ellipse cx="583.0" cy="270.2" rx="5.4" ry="4.4" fill="#c08850"/><ellipse cx="596.0" cy="284.9" rx="5.0" ry="4.0" fill="#b07840"/><ellipse cx="588.4" cy="260.9" rx="4.8" ry="3.8" fill="#c89060"/><ellipse cx="582.2" cy="274.9" rx="4.1" ry="3.3" fill="#c89060"/><ellipse cx="567.8" cy="253.6" rx="4.7" ry="3.7" fill="#a06a38"/><ellipse cx="559.3" cy="278.0" rx="4.5" ry="3.6" fill="#b07840"/><ellipse cx="556.1" cy="264.5" rx="4.5" ry="3.6" fill="#c08850"/><ellipse cx="557.2" cy="271.3" rx="3.8" ry="3.1" fill="#c89060"/><ellipse cx="570.9" cy="280.9" rx="5.6" ry="4.5" fill="#c89060"/><ellipse cx="566.4" cy="250.4" rx="3.8" ry="3.0" fill="#c08850"/><ellipse cx="583.7" cy="250.2" rx="4.1" ry="3.3" fill="#a06a38"/><ellipse cx="569.0" cy="258.6" rx="5.0" ry="4.0" fill="#d0a068"/><ellipse cx="570.1" cy="283.7" rx="5.4" ry="4.3" fill="#a06a38"/><ellipse cx="573.1" cy="280.5" rx="4.5" ry="3.6" fill="#c89060"/><ellipse cx="587.6" cy="252.8" rx="5.6" ry="4.5" fill="#c89060"/><ellipse cx="568.0" cy="272.0" rx="5.1" ry="4.1" fill="#d0a068"/><ellipse cx="576.0" cy="258.4" rx="4.3" ry="3.5" fill="#d0a068"/><ellipse cx="555.6" cy="264.1" rx="4.8" ry="3.9" fill="#c08850"/><ellipse cx="573.1" cy="270.4" rx="4.0" ry="3.2" fill="#d0a068"/><ellipse cx="577.3" cy="273.6" rx="4.4" ry="3.5" fill="#d0a068"/><ellipse cx="590.3" cy="249.9" rx="3.9" ry="3.1" fill="#c08850"/><ellipse cx="601.0" cy="258.2" rx="4.6" ry="3.7" fill="#c89060"/><ellipse cx="583.8" cy="255.5" rx="4.1" ry="3.3" fill="#d0a068"/><ellipse cx="595.4" cy="258.6" rx="5.2" ry="4.2" fill="#c08850"/><ellipse cx="591.9" cy="250.1" rx="4.8" ry="3.9" fill="#b07840"/><ellipse cx="569.9" cy="257.1" rx="5.3" ry="4.2" fill="#b07840"/><ellipse cx="570.7" cy="273.6" rx="5.0" ry="4.0" fill="#c08850"/><ellipse cx="560.0" cy="260.7" rx="4.4" ry="3.5" fill="#b07840"/><ellipse cx="576.0" cy="280.0" rx="4.1" ry="3.3" fill="#d0a068"/><ellipse cx="590.5" cy="257.0" rx="4.8" ry="3.9" fill="#d0a068"/><ellipse cx="565.8" cy="253.5" rx="4.7" ry="3.8" fill="#b07840"/><ellipse cx="570.1" cy="279.3" rx="4.8" ry="3.9" fill="#d0a068"/><ellipse cx="571.3" cy="279.0" rx="3.9" ry="3.1" fill="#c89060"/><ellipse cx="571.6" cy="253.8" rx="4.3" ry="3.4" fill="#d0a068"/><ellipse cx="577.3" cy="272.0" rx="4.3" ry="3.4" fill="#c89060"/><ellipse cx="574.6" cy="282.3" rx="4.0" ry="3.2" fill="#c08850"/><ellipse cx="577.9" cy="279.2" rx="4.9" ry="3.9" fill="#c89060"/><ellipse cx="575.8" cy="283.4" rx="5.5" ry="4.4" fill="#b07840"/><ellipse cx="556.6" cy="265.6" rx="5.2" ry="4.1" fill="#c89060"/><ellipse cx="601.1" cy="268.7" rx="5.4" ry="4.3" fill="#c08850"/><ellipse cx="596.0" cy="284.2" rx="4.0" ry="3.2" fill="#b07840"/><ellipse cx="557.3" cy="281.7" rx="5.1" ry="4.0" fill="#b07840"/><ellipse cx="597.9" cy="281.6" rx="4.8" ry="3.9" fill="#c08850"/><ellipse cx="578.0" cy="253.5" rx="4.7" ry="3.8" fill="#b07840"/><ellipse cx="586.7" cy="268.1" rx="4.5" ry="3.6" fill="#c89060"/><ellipse cx="560.5" cy="253.6" rx="5.6" ry="4.5" fill="#c89060"/><ellipse cx="577.9" cy="277.3" rx="4.4" ry="3.5" fill="#b07840"/><ellipse cx="560.9" cy="281.1" rx="4.0" ry="3.2" fill="#b07840"/><ellipse cx="592.9" cy="282.4" rx="5.3" ry="4.2" fill="#c08850"/><ellipse cx="578.4" cy="269.7" rx="4.5" ry="3.6" fill="#d0a068"/><ellipse cx="566.9" cy="271.4" rx="4.7" ry="3.8" fill="#c08850"/><ellipse cx="577.7" cy="277.1" rx="3.8" ry="3.0" fill="#c08850"/><ellipse cx="592.1" cy="250.8" rx="3.8" ry="3.1" fill="#a06a38"/><ellipse cx="601.6" cy="279.9" rx="3.9" ry="3.1" fill="#c89060"/><ellipse cx="578.5" cy="254.8" rx="3.9" ry="3.1" fill="#a06a38"/><ellipse cx="586.0" cy="270.3" rx="4.4" ry="3.5" fill="#b07840"/><ellipse cx="602.2" cy="264.6" rx="4.0" ry="3.2" fill="#c08850"/><ellipse cx="589.3" cy="262.8" rx="3.9" ry="3.1" fill="#b07840"/></g>
<clipPath id="cp4"><rect x="612.2" y="249.1" width="51.5" height="37.4"/></clipPath><g clip-path="url(#cp4)"><rect x="612.2" y="249.1" width="51.5" height="37.4" fill="#8a6030"/><ellipse cx="624.4" cy="253.0" rx="3.2" ry="3.2" fill="#e0c088"/><ellipse cx="616.8" cy="249.8" rx="3.3" ry="3.3" fill="#f4dca8"/><ellipse cx="653.4" cy="277.7" rx="3.0" ry="3.0" fill="#e8c890"/><ellipse cx="630.8" cy="278.3" rx="3.6" ry="3.6" fill="#f4dca8"/><ellipse cx="623.2" cy="283.8" rx="3.6" ry="3.6" fill="#f4dca8"/><ellipse cx="653.4" cy="256.3" rx="3.1" ry="3.1" fill="#f4dca8"/><ellipse cx="616.7" cy="271.8" rx="3.5" ry="3.5" fill="#e8c890"/><ellipse cx="625.0" cy="258.3" rx="3.1" ry="3.1" fill="#e8c890"/><ellipse cx="655.5" cy="249.4" rx="3.1" ry="3.1" fill="#f4dca8"/><ellipse cx="655.9" cy="268.1" rx="3.2" ry="3.2" fill="#e8c890"/><ellipse cx="627.0" cy="266.0" rx="3.0" ry="3.0" fill="#f4dca8"/><ellipse cx="654.0" cy="250.7" rx="2.8" ry="2.8" fill="#f4dca8"/><ellipse cx="638.9" cy="273.3" rx="3.5" ry="3.5" fill="#e0c088"/><ellipse cx="663.6" cy="256.4" rx="3.2" ry="3.2" fill="#e0c088"/><ellipse cx="644.9" cy="265.6" rx="3.0" ry="3.0" fill="#d8b478"/><ellipse cx="650.7" cy="261.1" rx="3.4" ry="3.4" fill="#f4dca8"/><ellipse cx="617.4" cy="251.4" rx="3.0" ry="3.0" fill="#e8c890"/><ellipse cx="643.9" cy="258.0" rx="3.1" ry="3.1" fill="#e0c088"/><ellipse cx="627.2" cy="250.1" rx="3.2" ry="3.2" fill="#ecd098"/><ellipse cx="658.3" cy="284.8" rx="3.5" ry="3.5" fill="#f4dca8"/><ellipse cx="613.1" cy="259.9" rx="3.8" ry="3.8" fill="#d8b478"/><ellipse cx="656.6" cy="281.6" rx="3.5" ry="3.5" fill="#ecd098"/><ellipse cx="627.3" cy="256.3" rx="3.2" ry="3.2" fill="#e0c088"/><ellipse cx="625.1" cy="271.5" rx="3.0" ry="3.0" fill="#e8c890"/><ellipse cx="612.7" cy="250.8" rx="3.0" ry="3.0" fill="#f4dca8"/><ellipse cx="663.6" cy="270.5" rx="3.2" ry="3.2" fill="#e0c088"/><ellipse cx="634.0" cy="256.9" rx="2.9" ry="2.9" fill="#ecd098"/><ellipse cx="650.2" cy="271.4" rx="3.8" ry="3.8" fill="#e8c890"/><ellipse cx="614.3" cy="267.5" rx="3.0" ry="3.0" fill="#ecd098"/><ellipse cx="618.5" cy="268.9" rx="3.6" ry="3.6" fill="#d8b478"/><ellipse cx="645.8" cy="256.6" rx="3.0" ry="3.0" fill="#d8b478"/><ellipse cx="633.3" cy="250.5" rx="3.2" ry="3.2" fill="#e0c088"/><ellipse cx="645.5" cy="265.1" rx="3.0" ry="3.0" fill="#e0c088"/><ellipse cx="613.8" cy="258.6" rx="3.0" ry="3.0" fill="#e0c088"/><ellipse cx="652.0" cy="264.7" rx="3.1" ry="3.1" fill="#f4dca8"/><ellipse cx="614.8" cy="283.8" rx="3.4" ry="3.4" fill="#e8c890"/><ellipse cx="633.0" cy="282.8" rx="3.5" ry="3.5" fill="#ecd098"/><ellipse cx="637.7" cy="252.6" rx="3.0" ry="3.0" fill="#e8c890"/><ellipse cx="658.5" cy="283.7" rx="3.1" ry="3.1" fill="#d8b478"/><ellipse cx="653.4" cy="273.1" rx="3.6" ry="3.6" fill="#e8c890"/><ellipse cx="623.3" cy="279.1" rx="3.6" ry="3.6" fill="#f4dca8"/><ellipse cx="659.7" cy="284.9" rx="2.9" ry="2.9" fill="#f4dca8"/><ellipse cx="661.7" cy="274.1" rx="2.8" ry="2.8" fill="#e8c890"/><ellipse cx="618.8" cy="285.3" rx="3.5" ry="3.5" fill="#ecd098"/><ellipse cx="657.0" cy="274.8" rx="3.3" ry="3.3" fill="#d8b478"/><ellipse cx="650.6" cy="283.8" rx="3.0" ry="3.0" fill="#ecd098"/><ellipse cx="623.1" cy="255.0" rx="3.4" ry="3.4" fill="#f4dca8"/><ellipse cx="618.2" cy="279.4" rx="3.6" ry="3.6" fill="#e0c088"/><ellipse cx="640.6" cy="282.0" rx="3.0" ry="3.0" fill="#e8c890"/><ellipse cx="629.2" cy="282.5" rx="3.6" ry="3.6" fill="#d8b478"/><ellipse cx="659.3" cy="265.5" rx="2.9" ry="2.9" fill="#e8c890"/><ellipse cx="618.0" cy="270.1" rx="3.1" ry="3.1" fill="#e0c088"/><ellipse cx="614.3" cy="252.1" rx="3.7" ry="3.7" fill="#ecd098"/><ellipse cx="627.5" cy="262.1" rx="2.9" ry="2.9" fill="#e8c890"/><ellipse cx="635.6" cy="256.8" rx="3.8" ry="3.8" fill="#d8b478"/><ellipse cx="624.2" cy="267.3" rx="3.8" ry="3.8" fill="#ecd098"/><ellipse cx="616.2" cy="283.3" rx="3.6" ry="3.6" fill="#f4dca8"/><ellipse cx="638.6" cy="265.3" rx="3.7" ry="3.7" fill="#d8b478"/><ellipse cx="615.6" cy="282.1" rx="3.0" ry="3.0" fill="#f4dca8"/><ellipse cx="660.1" cy="267.0" rx="2.9" ry="2.9" fill="#e8c890"/><ellipse cx="620.8" cy="281.8" rx="3.0" ry="3.0" fill="#e0c088"/><ellipse cx="629.0" cy="281.3" rx="3.1" ry="3.1" fill="#ecd098"/><ellipse cx="648.8" cy="249.3" rx="3.1" ry="3.1" fill="#e8c890"/><ellipse cx="617.9" cy="278.5" rx="3.4" ry="3.4" fill="#e8c890"/><ellipse cx="616.1" cy="258.3" rx="3.6" ry="3.6" fill="#f4dca8"/><ellipse cx="624.0" cy="255.8" rx="3.7" ry="3.7" fill="#ecd098"/><ellipse cx="647.1" cy="271.9" rx="3.1" ry="3.1" fill="#d8b478"/><ellipse cx="652.5" cy="270.4" rx="3.7" ry="3.7" fill="#e8c890"/><ellipse cx="652.7" cy="272.0" rx="3.2" ry="3.2" fill="#e0c088"/><ellipse cx="625.2" cy="271.4" rx="3.8" ry="3.8" fill="#f4dca8"/><ellipse cx="619.1" cy="252.2" rx="2.9" ry="2.9" fill="#e8c890"/><ellipse cx="621.3" cy="282.8" rx="3.2" ry="3.2" fill="#e8c890"/><ellipse cx="653.1" cy="274.3" rx="3.7" ry="3.7" fill="#ecd098"/><ellipse cx="632.9" cy="284.1" rx="3.0" ry="3.0" fill="#f4dca8"/><ellipse cx="629.0" cy="260.3" rx="2.8" ry="2.8" fill="#ecd098"/><ellipse cx="639.2" cy="277.3" rx="2.9" ry="2.9" fill="#f4dca8"/><ellipse cx="653.8" cy="284.8" rx="3.0" ry="3.0" fill="#e8c890"/><ellipse cx="663.0" cy="273.8" rx="3.8" ry="3.8" fill="#ecd098"/><ellipse cx="651.4" cy="285.3" rx="2.9" ry="2.9" fill="#d8b478"/><ellipse cx="647.0" cy="277.0" rx="3.4" ry="3.4" fill="#f4dca8"/></g>
<rect x="450.7" y="275.4" width="22.80" height="8.50" fill="#fff"/><text x="462.10" y="278.75" font-size="3.40" text-anchor="middle" fill="#111" font-family="Liberation Serif" stroke="#111" stroke-width="0.15" textLength="12.38" lengthAdjust="spacingAndGlyphs">Сушеный</text><text x="462.10" y="283.00" font-size="3.40" text-anchor="middle" fill="#111" font-family="Liberation Serif" stroke="#111" stroke-width="0.15" textLength="8.84" lengthAdjust="spacingAndGlyphs">финик</text>
<rect x="510" y="276" width="22.00" height="8.80" fill="#fff"/><text x="521.00" y="279.42" font-size="3.40" text-anchor="middle" fill="#111" font-family="Liberation Serif" stroke="#111" stroke-width="0.15" textLength="12.38" lengthAdjust="spacingAndGlyphs">морской</text><text x="521.00" y="283.82" font-size="3.40" text-anchor="middle" fill="#111" font-family="Liberation Serif" stroke="#111" stroke-width="0.15" textLength="14.14" lengthAdjust="spacingAndGlyphs">виноград</text>
<rect x="566.7" y="275.4" width="23.20" height="8.70" fill="#fff"/><text x="578.30" y="280.97" font-size="3.40" text-anchor="middle" fill="#111" font-family="Liberation Serif" stroke="#111" stroke-width="0.15" textLength="20.70" lengthAdjust="spacingAndGlyphs">грецкий орех</text>
<rect x="627.3" y="277.2" width="21.70" height="8.50" fill="#fff"/><text x="638.15" y="282.67" font-size="3.40" text-anchor="middle" fill="#111" font-family="Liberation Serif" stroke="#111" stroke-width="0.15" textLength="12.38" lengthAdjust="spacingAndGlyphs">кунжуть</text>
<clipPath id="cp5"><rect x="437" y="318.7" width="48" height="36.1"/></clipPath><g clip-path="url(#cp5)"><rect x="437" y="318.7" width="48" height="36.1" fill="#7a1020"/><line x1="472.3" y1="341.4" x2="461.5" y2="349.5" stroke="#500810" stroke-width="0.8" stroke-linecap="round"/><line x1="462.3" y1="346.9" x2="456.4" y2="358.6" stroke="#c02838" stroke-width="1.2" stroke-linecap="round"/><line x1="474.9" y1="331.2" x2="482.5" y2="333.7" stroke="#e04858" stroke-width="1.2" stroke-linecap="round"/><line x1="443.7" y1="344.3" x2="447.8" y2="355.7" stroke="#c02838" stroke-width="0.9" stroke-linecap="round"/><line x1="460.2" y1="323.2" x2="473.1" y2="323.3" stroke="#e04858" stroke-width="1.6" stroke-linecap="round"/><line x1="479.4" y1="322.6" x2="486.8" y2="326.8" stroke="#e04858" stroke-width="1.3" stroke-linecap="round"/><line x1="475.2" y1="325.0" x2="463.9" y2="327.2" stroke="#f07080" stroke-width="1.1" stroke-linecap="round"/><line x1="451.4" y1="323.3" x2="457.3" y2="326.1" stroke="#a01828" stroke-width="1.6" stroke-linecap="round"/><line x1="467.1" y1="337.6" x2="463.2" y2="342.8" stroke="#a01828" stroke-width="1.6" stroke-linecap="round"/><line x1="459.7" y1="324.3" x2="460.4" y2="335.9" stroke="#c02838" stroke-width="1.1" stroke-linecap="round"/><line x1="480.1" y1="348.8" x2="484.1" y2="357.1" stroke="#500810" stroke-width="1.6" stroke-linecap="round"/><line x1="451.4" y1="339.5" x2="457.8" y2="339.7" stroke="#e04858" stroke-width="1.4" stroke-linecap="round"/><line x1="478.3" y1="318.6" x2="487.3" y2="327.4" stroke="#f07080" stroke-width="1.1" stroke-linecap="round"/><line x1="456.6" y1="335.4" x2="451.4" y2="339.9" stroke="#a01828" stroke-width="1.7" stroke-linecap="round"/><line x1="434.6" y1="351.6" x2="442.9" y2="354.1" stroke="#500810" stroke-width="1.2" stroke-linecap="round"/><line x1="446.1" y1="325.9" x2="442.1" y2="331.4" stroke="#a01828" stroke-width="1.1" stroke-linecap="round"/><line x1="478.1" y1="338.1" x2="472.6" y2="344.6" stroke="#f07080" stroke-width="1.0" stroke-linecap="round"/><line x1="439.8" y1="349.7" x2="438.8" y2="358.9" stroke="#e04858" stroke-width="1.5" stroke-linecap="round"/><line x1="455.1" y1="324.5" x2="451.9" y2="330.9" stroke="#c02838" stroke-width="1.6" stroke-linecap="round"/><line x1="458.3" y1="325.9" x2="447.8" y2="326.5" stroke="#e04858" stroke-width="1.4" stroke-linecap="round"/><line x1="474.1" y1="319.0" x2="475.6" y2="326.1" stroke="#f07080" stroke-width="1.1" stroke-linecap="round"/><line x1="464.9" y1="351.7" x2="452.6" y2="357.9" stroke="#f07080" stroke-width="1.8" stroke-linecap="round"/><line x1="466.9" y1="326.5" x2="473.2" y2="333.9" stroke="#e04858" stroke-width="0.9" stroke-linecap="round"/><line x1="470.8" y1="334.3" x2="482.2" y2="341.5" stroke="#a01828" stroke-width="1.0" stroke-linecap="round"/><line x1="461.4" y1="332.3" x2="459.9" y2="342.3" stroke="#c02838" stroke-width="1.6" stroke-linecap="round"/><line x1="477.2" y1="338.5" x2="471.2" y2="349.0" stroke="#a01828" stroke-width="1.4" stroke-linecap="round"/><line x1="464.4" y1="343.7" x2="473.7" y2="354.0" stroke="#a01828" stroke-width="1.8" stroke-linecap="round"/><line x1="457.7" y1="323.0" x2="448.9" y2="327.3" stroke="#a01828" stroke-width="1.1" stroke-linecap="round"/><line x1="450.1" y1="323.4" x2="450.1" y2="334.8" stroke="#a01828" stroke-width="1.1" stroke-linecap="round"/><line x1="471.7" y1="343.1" x2="464.1" y2="347.6" stroke="#e04858" stroke-width="1.7" stroke-linecap="round"/><line x1="475.1" y1="353.2" x2="465.0" y2="354.6" stroke="#500810" stroke-width="1.8" stroke-linecap="round"/><line x1="450.2" y1="329.9" x2="442.8" y2="333.6" stroke="#c02838" stroke-width="1.5" stroke-linecap="round"/><line x1="476.2" y1="321.5" x2="468.0" y2="328.3" stroke="#f07080" stroke-width="1.1" stroke-linecap="round"/><line x1="458.9" y1="344.8" x2="468.2" y2="355.3" stroke="#e04858" stroke-width="1.0" stroke-linecap="round"/><line x1="453.7" y1="338.5" x2="462.6" y2="345.8" stroke="#c02838" stroke-width="1.8" stroke-linecap="round"/><line x1="487.3" y1="323.5" x2="480.8" y2="325.8" stroke="#e04858" stroke-width="1.3" stroke-linecap="round"/><line x1="460.8" y1="328.7" x2="465.9" y2="338.7" stroke="#c02838" stroke-width="1.4" stroke-linecap="round"/><line x1="443.8" y1="351.3" x2="453.0" y2="351.3" stroke="#a01828" stroke-width="1.7" stroke-linecap="round"/><line x1="479.6" y1="336.8" x2="477.6" y2="350.3" stroke="#500810" stroke-width="1.4" stroke-linecap="round"/><line x1="439.0" y1="333.7" x2="444.1" y2="343.0" stroke="#a01828" stroke-width="1.6" stroke-linecap="round"/><line x1="459.1" y1="344.0" x2="455.2" y2="352.1" stroke="#e04858" stroke-width="1.0" stroke-linecap="round"/><line x1="452.5" y1="333.9" x2="458.2" y2="338.0" stroke="#c02838" stroke-width="1.2" stroke-linecap="round"/><line x1="474.9" y1="317.0" x2="484.9" y2="320.5" stroke="#500810" stroke-width="1.3" stroke-linecap="round"/><line x1="453.6" y1="345.7" x2="451.7" y2="355.0" stroke="#e04858" stroke-width="1.3" stroke-linecap="round"/><line x1="457.7" y1="338.3" x2="462.3" y2="350.3" stroke="#e04858" stroke-width="1.4" stroke-linecap="round"/><line x1="449.4" y1="349.5" x2="449.5" y2="358.8" stroke="#a01828" stroke-width="1.7" stroke-linecap="round"/><line x1="449.0" y1="350.9" x2="454.5" y2="353.6" stroke="#500810" stroke-width="1.8" stroke-linecap="round"/><line x1="444.6" y1="318.2" x2="452.9" y2="322.0" stroke="#f07080" stroke-width="1.3" stroke-linecap="round"/><line x1="453.2" y1="349.9" x2="447.1" y2="355.0" stroke="#a01828" stroke-width="1.6" stroke-linecap="round"/><line x1="471.5" y1="322.0" x2="471.8" y2="336.0" stroke="#500810" stroke-width="1.4" stroke-linecap="round"/><line x1="460.4" y1="343.3" x2="471.6" y2="347.7" stroke="#a01828" stroke-width="1.1" stroke-linecap="round"/><line x1="473.0" y1="338.5" x2="468.9" y2="343.2" stroke="#a01828" stroke-width="1.2" stroke-linecap="round"/><line x1="468.8" y1="339.6" x2="476.7" y2="340.5" stroke="#f07080" stroke-width="1.5" stroke-linecap="round"/><line x1="438.3" y1="340.8" x2="446.1" y2="346.2" stroke="#f07080" stroke-width="1.4" stroke-linecap="round"/><line x1="473.0" y1="347.4" x2="467.2" y2="358.9" stroke="#f07080" stroke-width="1.3" stroke-linecap="round"/><line x1="474.4" y1="343.2" x2="465.1" y2="346.2" stroke="#c02838" stroke-width="1.1" stroke-linecap="round"/><line x1="438.6" y1="341.4" x2="435.7" y2="352.2" stroke="#f07080" stroke-width="1.7" stroke-linecap="round"/><line x1="444.6" y1="331.0" x2="443.1" y2="340.9" stroke="#a01828" stroke-width="1.3" stroke-linecap="round"/><line x1="451.6" y1="337.3" x2="463.3" y2="339.1" stroke="#a01828" stroke-width="1.6" stroke-linecap="round"/><line x1="469.1" y1="342.2" x2="480.9" y2="343.1" stroke="#c02838" stroke-width="1.8" stroke-linecap="round"/><line x1="474.1" y1="318.6" x2="467.3" y2="322.3" stroke="#c02838" stroke-width="1.5" stroke-linecap="round"/><line x1="446.9" y1="328.3" x2="440.0" y2="330.2" stroke="#500810" stroke-width="1.0" stroke-linecap="round"/><line x1="471.4" y1="317.9" x2="479.6" y2="324.4" stroke="#f07080" stroke-width="1.5" stroke-linecap="round"/><line x1="446.2" y1="337.6" x2="454.7" y2="341.0" stroke="#500810" stroke-width="0.9" stroke-linecap="round"/><line x1="459.3" y1="325.3" x2="456.2" y2="334.8" stroke="#a01828" stroke-width="1.7" stroke-linecap="round"/><line x1="444.9" y1="323.8" x2="442.4" y2="334.9" stroke="#a01828" stroke-width="1.7" stroke-linecap="round"/><line x1="460.1" y1="337.3" x2="467.2" y2="344.9" stroke="#a01828" stroke-width="1.6" stroke-linecap="round"/><line x1="455.9" y1="350.2" x2="445.3" y2="357.6" stroke="#f07080" stroke-width="1.5" stroke-linecap="round"/><line x1="447.2" y1="341.5" x2="444.0" y2="347.4" stroke="#c02838" stroke-width="0.9" stroke-linecap="round"/><line x1="438.2" y1="335.7" x2="447.8" y2="344.6" stroke="#f07080" stroke-width="1.8" stroke-linecap="round"/><line x1="442.8" y1="333.4" x2="441.6" y2="342.4" stroke="#e04858" stroke-width="1.7" stroke-linecap="round"/><line x1="460.0" y1="345.0" x2="455.3" y2="349.7" stroke="#f07080" stroke-width="1.6" stroke-linecap="round"/><line x1="442.0" y1="337.7" x2="445.4" y2="344.8" stroke="#a01828" stroke-width="1.7" stroke-linecap="round"/><line x1="468.7" y1="342.0" x2="473.1" y2="352.9" stroke="#a01828" stroke-width="1.4" stroke-linecap="round"/><line x1="480.1" y1="332.1" x2="471.1" y2="336.6" stroke="#500810" stroke-width="1.8" stroke-linecap="round"/><line x1="444.2" y1="324.6" x2="450.4" y2="325.8" stroke="#e04858" stroke-width="1.0" stroke-linecap="round"/><line x1="438.5" y1="344.8" x2="439.3" y2="356.8" stroke="#c02838" stroke-width="1.2" stroke-linecap="round"/><line x1="455.6" y1="351.4" x2="447.3" y2="353.5" stroke="#f07080" stroke-width="0.9" stroke-linecap="round"/><line x1="442.7" y1="320.2" x2="446.2" y2="328.6" stroke="#f07080" stroke-width="1.0" stroke-linecap="round"/><line x1="445.6" y1="326.7" x2="452.8" y2="330.7" stroke="#e04858" stroke-width="0.8" stroke-linecap="round"/><line x1="483.1" y1="328.1" x2="477.0" y2="334.1" stroke="#c02838" stroke-width="1.5" stroke-linecap="round"/><line x1="472.8" y1="335.1" x2="465.9" y2="336.3" stroke="#a01828" stroke-width="1.1" stroke-linecap="round"/><line x1="466.1" y1="343.2" x2="472.7" y2="346.9" stroke="#c02838" stroke-width="1.4" stroke-linecap="round"/><line x1="474.1" y1="339.4" x2="462.9" y2="342.6" stroke="#a01828" stroke-width="1.0" stroke-linecap="round"/><line x1="459.2" y1="321.0" x2="449.5" y2="321.2" stroke="#e04858" stroke-width="1.0" stroke-linecap="round"/><line x1="449.0" y1="314.7" x2="445.0" y2="325.9" stroke="#a01828" stroke-width="0.8" stroke-linecap="round"/><line x1="439.0" y1="343.8" x2="440.8" y2="349.9" stroke="#500810" stroke-width="1.6" stroke-linecap="round"/><line x1="482.9" y1="338.0" x2="471.4" y2="340.2" stroke="#e04858" stroke-width="1.7" stroke-linecap="round"/><line x1="456.7" y1="351.8" x2="464.5" y2="353.1" stroke="#c02838" stroke-width="1.3" stroke-linecap="round"/><line x1="478.7" y1="318.0" x2="470.4" y2="322.8" stroke="#c02838" stroke-width="1.7" stroke-linecap="round"/><line x1="485.8" y1="321.2" x2="479.4" y2="330.3" stroke="#e04858" stroke-width="1.3" stroke-linecap="round"/><line x1="436.2" y1="328.3" x2="445.9" y2="331.8" stroke="#e04858" stroke-width="1.4" stroke-linecap="round"/><line x1="473.0" y1="326.2" x2="483.3" y2="326.7" stroke="#f07080" stroke-width="1.2" stroke-linecap="round"/><line x1="471.1" y1="336.3" x2="476.7" y2="338.8" stroke="#a01828" stroke-width="1.5" stroke-linecap="round"/><line x1="480.4" y1="351.3" x2="479.2" y2="358.3" stroke="#f07080" stroke-width="0.9" stroke-linecap="round"/><line x1="472.1" y1="345.4" x2="476.0" y2="351.2" stroke="#c02838" stroke-width="1.3" stroke-linecap="round"/><line x1="476.1" y1="347.0" x2="464.8" y2="348.1" stroke="#a01828" stroke-width="0.9" stroke-linecap="round"/><line x1="467.3" y1="318.0" x2="474.0" y2="322.9" stroke="#a01828" stroke-width="1.7" stroke-linecap="round"/><line x1="438.2" y1="340.8" x2="442.7" y2="352.1" stroke="#c02838" stroke-width="1.7" stroke-linecap="round"/><line x1="469.5" y1="341.5" x2="467.3" y2="350.8" stroke="#c02838" stroke-width="1.5" stroke-linecap="round"/><line x1="474.4" y1="325.8" x2="466.9" y2="330.9" stroke="#e04858" stroke-width="1.1" stroke-linecap="round"/><line x1="451.7" y1="319.4" x2="451.7" y2="328.0" stroke="#c02838" stroke-width="0.9" stroke-linecap="round"/><line x1="470.5" y1="338.5" x2="476.9" y2="339.1" stroke="#e04858" stroke-width="1.6" stroke-linecap="round"/><line x1="461.0" y1="327.6" x2="454.9" y2="328.5" stroke="#500810" stroke-width="1.2" stroke-linecap="round"/><line x1="449.1" y1="330.4" x2="459.7" y2="330.8" stroke="#e04858" stroke-width="1.5" stroke-linecap="round"/><line x1="436.6" y1="334.9" x2="446.6" y2="340.8" stroke="#f07080" stroke-width="1.6" stroke-linecap="round"/><line x1="455.5" y1="330.1" x2="460.2" y2="338.3" stroke="#e04858" stroke-width="1.3" stroke-linecap="round"/><line x1="462.9" y1="330.1" x2="452.8" y2="339.1" stroke="#500810" stroke-width="1.3" stroke-linecap="round"/><line x1="454.7" y1="316.3" x2="466.5" y2="321.2" stroke="#c02838" stroke-width="1.0" stroke-linecap="round"/><line x1="432.8" y1="347.6" x2="441.3" y2="355.4" stroke="#a01828" stroke-width="1.2" stroke-linecap="round"/></g>
<clipPath id="cp6"><rect x="496.9" y="318.7" width="47.1" height="36.1"/></clipPath><g clip-path="url(#cp6)"><rect x="496.9" y="318.7" width="47.1" height="36.1" fill="#4a2c1c"/><ellipse cx="534.3" cy="348.4" rx="2.8" ry="2.8" fill="#6a4030"/><ellipse cx="498.6" cy="324.0" rx="3.0" ry="3.0" fill="#6a4030"/><ellipse cx="511.9" cy="319.5" rx="2.8" ry="2.8" fill="#c8a890"/><ellipse cx="531.3" cy="333.6" rx="2.9" ry="2.9" fill="#8a6048"/><ellipse cx="506.0" cy="338.7" rx="3.4" ry="3.4" fill="#6a4030"/><ellipse cx="528.1" cy="340.7" rx="2.0" ry="2.0" fill="#e0d0c0"/><ellipse cx="512.7" cy="322.1" rx="3.4" ry="3.4" fill="#6a4030"/><ellipse cx="517.9" cy="322.1" rx="2.2" ry="2.2" fill="#6a4030"/><ellipse cx="501.5" cy="320.3" rx="3.6" ry="3.6" fill="#6a4030"/><ellipse cx="519.8" cy="348.8" rx="2.2" ry="2.2" fill="#a07860"/><ellipse cx="527.3" cy="343.9" rx="3.4" ry="3.4" fill="#8a6048"/><ellipse cx="526.7" cy="327.5" rx="2.7" ry="2.7" fill="#6a4030"/><ellipse cx="524.6" cy="321.9" rx="3.6" ry="3.6" fill="#a07860"/><ellipse cx="506.3" cy="340.7" rx="2.3" ry="2.3" fill="#c8a890"/><ellipse cx="514.8" cy="326.7" rx="3.0" ry="3.0" fill="#a07860"/><ellipse cx="497.5" cy="346.8" rx="1.8" ry="1.8" fill="#6a4030"/><ellipse cx="523.2" cy="342.9" rx="3.0" ry="3.0" fill="#6a4030"/><ellipse cx="514.7" cy="332.7" rx="2.1" ry="2.1" fill="#e0d0c0"/><ellipse cx="499.4" cy="334.0" rx="3.3" ry="3.3" fill="#e0d0c0"/><ellipse cx="501.4" cy="334.6" rx="3.4" ry="3.4" fill="#8a6048"/><ellipse cx="538.9" cy="342.9" rx="3.6" ry="3.6" fill="#e0d0c0"/><ellipse cx="533.8" cy="332.4" rx="2.0" ry="2.0" fill="#e0d0c0"/><ellipse cx="519.1" cy="344.2" rx="2.6" ry="2.6" fill="#8a6048"/><ellipse cx="506.0" cy="343.3" rx="2.7" ry="2.7" fill="#c8a890"/><ellipse cx="497.8" cy="338.1" rx="2.3" ry="2.3" fill="#6a4030"/><ellipse cx="505.7" cy="336.8" rx="2.5" ry="2.5" fill="#a07860"/><ellipse cx="508.9" cy="333.5" rx="3.6" ry="3.6" fill="#a07860"/><ellipse cx="519.8" cy="340.4" rx="3.1" ry="3.1" fill="#e0d0c0"/><ellipse cx="503.6" cy="332.3" rx="2.4" ry="2.4" fill="#e0d0c0"/><ellipse cx="512.1" cy="342.5" rx="3.7" ry="3.7" fill="#a07860"/><ellipse cx="514.6" cy="340.5" rx="2.4" ry="2.4" fill="#e0d0c0"/><ellipse cx="542.8" cy="345.0" rx="2.1" ry="2.1" fill="#6a4030"/><ellipse cx="523.3" cy="341.2" rx="3.7" ry="3.7" fill="#c8a890"/><ellipse cx="498.3" cy="346.6" rx="2.0" ry="2.0" fill="#6a4030"/><ellipse cx="514.0" cy="352.6" rx="3.5" ry="3.5" fill="#8a6048"/><ellipse cx="540.2" cy="324.3" rx="2.3" ry="2.3" fill="#8a6048"/><ellipse cx="516.8" cy="346.9" rx="3.4" ry="3.4" fill="#e0d0c0"/><ellipse cx="500.5" cy="327.1" rx="2.5" ry="2.5" fill="#c8a890"/><ellipse cx="529.0" cy="327.5" rx="2.4" ry="2.4" fill="#8a6048"/><ellipse cx="526.5" cy="322.2" rx="2.0" ry="2.0" fill="#e0d0c0"/><ellipse cx="518.7" cy="351.2" rx="3.1" ry="3.1" fill="#a07860"/><ellipse cx="502.9" cy="348.8" rx="2.0" ry="2.0" fill="#a07860"/><ellipse cx="526.6" cy="328.3" rx="3.5" ry="3.5" fill="#e0d0c0"/><ellipse cx="520.4" cy="319.4" rx="3.1" ry="3.1" fill="#c8a890"/><ellipse cx="539.7" cy="334.6" rx="3.4" ry="3.4" fill="#e0d0c0"/><ellipse cx="523.2" cy="335.9" rx="3.0" ry="3.0" fill="#6a4030"/><ellipse cx="543.0" cy="329.0" rx="3.7" ry="3.7" fill="#8a6048"/><ellipse cx="520.6" cy="328.7" rx="2.3" ry="2.3" fill="#e0d0c0"/><ellipse cx="517.2" cy="352.0" rx="1.9" ry="1.9" fill="#8a6048"/><ellipse cx="508.7" cy="340.5" rx="2.3" ry="2.3" fill="#8a6048"/><ellipse cx="531.7" cy="330.8" rx="1.9" ry="1.9" fill="#c8a890"/><ellipse cx="529.9" cy="331.1" rx="2.0" ry="2.0" fill="#8a6048"/><ellipse cx="515.7" cy="323.6" rx="3.3" ry="3.3" fill="#8a6048"/><ellipse cx="502.9" cy="331.3" rx="3.8" ry="3.8" fill="#c8a890"/><ellipse cx="521.6" cy="324.1" rx="2.4" ry="2.4" fill="#c8a890"/><ellipse cx="520.8" cy="349.4" rx="3.4" ry="3.4" fill="#c8a890"/><ellipse cx="529.7" cy="344.5" rx="2.1" ry="2.1" fill="#c8a890"/><ellipse cx="532.6" cy="354.6" rx="2.9" ry="2.9" fill="#8a6048"/><ellipse cx="533.9" cy="339.2" rx="2.2" ry="2.2" fill="#6a4030"/><ellipse cx="537.2" cy="337.7" rx="1.8" ry="1.8" fill="#a07860"/><ellipse cx="522.9" cy="342.6" rx="3.2" ry="3.2" fill="#a07860"/><ellipse cx="534.8" cy="332.1" rx="3.1" ry="3.1" fill="#c8a890"/><ellipse cx="504.6" cy="341.3" rx="2.6" ry="2.6" fill="#8a6048"/><ellipse cx="497.5" cy="335.7" rx="1.9" ry="1.9" fill="#a07860"/><ellipse cx="501.6" cy="332.0" rx="1.9" ry="1.9" fill="#a07860"/><ellipse cx="507.5" cy="333.4" rx="3.3" ry="3.3" fill="#6a4030"/><ellipse cx="501.3" cy="321.5" rx="2.9" ry="2.9" fill="#8a6048"/><ellipse cx="504.8" cy="342.6" rx="2.0" ry="2.0" fill="#8a6048"/><ellipse cx="530.0" cy="325.1" rx="3.2" ry="3.2" fill="#8a6048"/><ellipse cx="532.2" cy="343.1" rx="3.3" ry="3.3" fill="#6a4030"/><ellipse cx="508.9" cy="327.1" rx="3.4" ry="3.4" fill="#a07860"/><ellipse cx="534.0" cy="326.4" rx="3.0" ry="3.0" fill="#6a4030"/><ellipse cx="521.7" cy="345.1" rx="3.7" ry="3.7" fill="#6a4030"/><ellipse cx="533.5" cy="322.1" rx="3.0" ry="3.0" fill="#8a6048"/><ellipse cx="514.0" cy="343.7" rx="2.3" ry="2.3" fill="#8a6048"/><ellipse cx="513.9" cy="343.7" rx="2.5" ry="2.5" fill="#8a6048"/><ellipse cx="513.1" cy="319.8" rx="2.5" ry="2.5" fill="#e0d0c0"/><ellipse cx="497.0" cy="348.6" rx="2.0" ry="2.0" fill="#a07860"/><ellipse cx="525.9" cy="327.0" rx="2.1" ry="2.1" fill="#a07860"/><ellipse cx="505.5" cy="354.0" rx="2.6" ry="2.6" fill="#a07860"/></g>
<clipPath id="cp7"><rect x="555.1" y="319" width="48.2" height="35.7"/></clipPath><g clip-path="url(#cp7)"><rect x="555.1" y="319" width="48.2" height="35.7" fill="#a8a830"/><line x1="571.5" y1="322.9" x2="570.0" y2="325.8" stroke="#e4e490" stroke-width="1.1" stroke-linecap="round"/><line x1="581.9" y1="350.4" x2="584.5" y2="352.5" stroke="#c0c048" stroke-width="1.1" stroke-linecap="round"/><line x1="561.0" y1="333.3" x2="558.0" y2="335.1" stroke="#d8d870" stroke-width="1.6" stroke-linecap="round"/><line x1="583.6" y1="319.7" x2="582.8" y2="322.8" stroke="#d8d870" stroke-width="1.0" stroke-linecap="round"/><line x1="594.9" y1="328.6" x2="598.0" y2="330.1" stroke="#888820" stroke-width="1.6" stroke-linecap="round"/><line x1="588.4" y1="320.9" x2="587.6" y2="324.5" stroke="#c8c850" stroke-width="1.5" stroke-linecap="round"/><line x1="555.8" y1="319.4" x2="560.4" y2="322.9" stroke="#c0c048" stroke-width="1.8" stroke-linecap="round"/><line x1="576.7" y1="350.2" x2="578.4" y2="353.8" stroke="#d8d870" stroke-width="1.7" stroke-linecap="round"/><line x1="567.1" y1="336.3" x2="566.6" y2="342.7" stroke="#c0c048" stroke-width="1.3" stroke-linecap="round"/><line x1="601.6" y1="320.3" x2="603.1" y2="326.1" stroke="#d8d870" stroke-width="1.9" stroke-linecap="round"/><line x1="572.9" y1="352.7" x2="578.0" y2="354.0" stroke="#888820" stroke-width="1.3" stroke-linecap="round"/><line x1="573.3" y1="335.8" x2="570.7" y2="337.7" stroke="#c8c850" stroke-width="1.9" stroke-linecap="round"/><line x1="575.1" y1="342.2" x2="580.8" y2="343.3" stroke="#e4e490" stroke-width="2.0" stroke-linecap="round"/><line x1="593.7" y1="326.5" x2="595.7" y2="331.8" stroke="#c8c850" stroke-width="1.9" stroke-linecap="round"/><line x1="572.2" y1="338.9" x2="572.3" y2="342.7" stroke="#888820" stroke-width="1.1" stroke-linecap="round"/><line x1="568.6" y1="332.3" x2="565.5" y2="333.6" stroke="#c0c048" stroke-width="1.4" stroke-linecap="round"/><line x1="567.9" y1="321.3" x2="569.1" y2="326.4" stroke="#c0c048" stroke-width="2.0" stroke-linecap="round"/><line x1="586.8" y1="331.5" x2="589.3" y2="333.7" stroke="#d8d870" stroke-width="1.2" stroke-linecap="round"/><line x1="566.9" y1="334.4" x2="565.8" y2="338.3" stroke="#c8c850" stroke-width="1.1" stroke-linecap="round"/><line x1="579.9" y1="339.3" x2="581.8" y2="342.2" stroke="#e4e490" stroke-width="2.0" stroke-linecap="round"/><line x1="586.2" y1="342.2" x2="587.1" y2="348.6" stroke="#e4e490" stroke-width="1.4" stroke-linecap="round"/><line x1="575.0" y1="321.2" x2="573.7" y2="324.2" stroke="#c8c850" stroke-width="2.0" stroke-linecap="round"/><line x1="576.9" y1="321.3" x2="575.8" y2="324.5" stroke="#e4e490" stroke-width="1.2" stroke-linecap="round"/><line x1="556.8" y1="331.7" x2="563.2" y2="332.2" stroke="#e4e490" stroke-width="1.4" stroke-linecap="round"/><line x1="586.5" y1="350.8" x2="584.9" y2="355.4" stroke="#c8c850" stroke-width="1.8" stroke-linecap="round"/><line x1="602.9" y1="334.0" x2="603.1" y2="337.3" stroke="#c8c850" stroke-width="1.7" stroke-linecap="round"/><line x1="592.2" y1="334.0" x2="589.3" y2="338.2" stroke="#d8d870" stroke-width="2.0" stroke-linecap="round"/><line x1="580.8" y1="322.7" x2="580.4" y2="325.8" stroke="#e4e490" stroke-width="1.3" stroke-linecap="round"/><line x1="588.3" y1="321.1" x2="583.8" y2="323.4" stroke="#d8d870" stroke-width="1.4" stroke-linecap="round"/><line x1="565.9" y1="335.6" x2="565.8" y2="341.1" stroke="#e4e490" stroke-width="1.8" stroke-linecap="round"/><line x1="605.1" y1="347.6" x2="600.0" y2="351.2" stroke="#d8d870" stroke-width="1.2" stroke-linecap="round"/><line x1="581.9" y1="345.0" x2="575.8" y2="345.2" stroke="#c0c048" stroke-width="1.3" stroke-linecap="round"/><line x1="587.9" y1="349.8" x2="589.0" y2="356.5" stroke="#888820" stroke-width="2.0" stroke-linecap="round"/><line x1="571.2" y1="325.6" x2="574.1" y2="328.1" stroke="#d8d870" stroke-width="1.5" stroke-linecap="round"/><line x1="599.3" y1="340.8" x2="605.9" y2="340.8" stroke="#888820" stroke-width="1.8" stroke-linecap="round"/><line x1="562.1" y1="341.7" x2="556.2" y2="343.4" stroke="#d8d870" stroke-width="1.5" stroke-linecap="round"/><line x1="562.1" y1="344.5" x2="565.3" y2="349.9" stroke="#c0c048" stroke-width="1.5" stroke-linecap="round"/><line x1="587.9" y1="320.4" x2="594.0" y2="323.7" stroke="#c8c850" stroke-width="1.2" stroke-linecap="round"/><line x1="595.9" y1="346.4" x2="601.5" y2="349.2" stroke="#c0c048" stroke-width="1.7" stroke-linecap="round"/><line x1="570.6" y1="338.0" x2="573.4" y2="339.2" stroke="#c8c850" stroke-width="1.5" stroke-linecap="round"/><line x1="603.0" y1="333.3" x2="597.2" y2="335.7" stroke="#d8d870" stroke-width="1.0" stroke-linecap="round"/><line x1="566.9" y1="335.4" x2="563.8" y2="338.3" stroke="#e4e490" stroke-width="1.4" stroke-linecap="round"/><line x1="560.3" y1="349.3" x2="562.5" y2="353.7" stroke="#e4e490" stroke-width="1.8" stroke-linecap="round"/><line x1="581.6" y1="347.9" x2="578.4" y2="349.2" stroke="#d8d870" stroke-width="1.5" stroke-linecap="round"/><line x1="554.7" y1="333.9" x2="557.3" y2="335.5" stroke="#d8d870" stroke-width="1.2" stroke-linecap="round"/><line x1="578.3" y1="342.8" x2="577.5" y2="347.0" stroke="#e4e490" stroke-width="1.5" stroke-linecap="round"/><line x1="579.9" y1="346.1" x2="576.8" y2="347.3" stroke="#d8d870" stroke-width="1.3" stroke-linecap="round"/><line x1="592.9" y1="334.2" x2="591.7" y2="340.1" stroke="#c8c850" stroke-width="1.4" stroke-linecap="round"/><line x1="584.7" y1="334.2" x2="584.5" y2="339.9" stroke="#c0c048" stroke-width="1.5" stroke-linecap="round"/><line x1="592.2" y1="335.3" x2="595.8" y2="338.9" stroke="#888820" stroke-width="1.9" stroke-linecap="round"/><line x1="597.7" y1="323.9" x2="598.5" y2="328.5" stroke="#c0c048" stroke-width="1.4" stroke-linecap="round"/><line x1="555.8" y1="326.9" x2="561.4" y2="328.2" stroke="#c8c850" stroke-width="1.9" stroke-linecap="round"/><line x1="563.4" y1="343.0" x2="561.7" y2="346.1" stroke="#d8d870" stroke-width="2.0" stroke-linecap="round"/><line x1="564.9" y1="350.7" x2="566.5" y2="355.4" stroke="#d8d870" stroke-width="1.2" stroke-linecap="round"/><line x1="575.0" y1="335.8" x2="576.8" y2="339.1" stroke="#888820" stroke-width="1.1" stroke-linecap="round"/><line x1="572.4" y1="328.2" x2="573.1" y2="333.9" stroke="#c0c048" stroke-width="1.3" stroke-linecap="round"/><line x1="581.8" y1="336.6" x2="588.6" y2="338.0" stroke="#d8d870" stroke-width="2.0" stroke-linecap="round"/><line x1="557.1" y1="328.1" x2="563.2" y2="328.9" stroke="#888820" stroke-width="1.8" stroke-linecap="round"/><line x1="596.4" y1="346.4" x2="592.8" y2="352.2" stroke="#c0c048" stroke-width="1.1" stroke-linecap="round"/><line x1="600.4" y1="338.0" x2="598.4" y2="340.7" stroke="#c8c850" stroke-width="1.8" stroke-linecap="round"/><line x1="562.9" y1="349.8" x2="565.0" y2="352.1" stroke="#c8c850" stroke-width="1.8" stroke-linecap="round"/><line x1="556.0" y1="348.9" x2="562.3" y2="350.2" stroke="#c0c048" stroke-width="1.0" stroke-linecap="round"/><line x1="605.7" y1="333.2" x2="600.4" y2="334.6" stroke="#c8c850" stroke-width="1.5" stroke-linecap="round"/><line x1="565.2" y1="322.1" x2="568.0" y2="323.7" stroke="#d8d870" stroke-width="1.9" stroke-linecap="round"/><line x1="583.5" y1="336.5" x2="587.3" y2="339.4" stroke="#d8d870" stroke-width="1.3" stroke-linecap="round"/><line x1="592.3" y1="354.3" x2="595.4" y2="354.7" stroke="#e4e490" stroke-width="1.6" stroke-linecap="round"/><line x1="565.9" y1="335.6" x2="562.6" y2="336.3" stroke="#c0c048" stroke-width="1.7" stroke-linecap="round"/><line x1="583.5" y1="350.5" x2="579.3" y2="350.9" stroke="#d8d870" stroke-width="2.0" stroke-linecap="round"/><line x1="573.3" y1="346.5" x2="569.9" y2="350.9" stroke="#c0c048" stroke-width="2.0" stroke-linecap="round"/><line x1="599.7" y1="348.8" x2="605.2" y2="349.0" stroke="#888820" stroke-width="1.4" stroke-linecap="round"/><line x1="556.9" y1="340.4" x2="558.7" y2="345.1" stroke="#888820" stroke-width="1.6" stroke-linecap="round"/><line x1="586.8" y1="319.5" x2="590.2" y2="321.7" stroke="#c8c850" stroke-width="1.3" stroke-linecap="round"/><line x1="601.8" y1="351.8" x2="601.2" y2="355.7" stroke="#888820" stroke-width="1.2" stroke-linecap="round"/><line x1="561.9" y1="330.4" x2="565.9" y2="331.5" stroke="#d8d870" stroke-width="1.2" stroke-linecap="round"/><line x1="594.0" y1="321.3" x2="591.0" y2="323.2" stroke="#e4e490" stroke-width="1.0" stroke-linecap="round"/><line x1="554.2" y1="328.1" x2="558.2" y2="331.6" stroke="#e4e490" stroke-width="1.9" stroke-linecap="round"/><line x1="564.7" y1="349.2" x2="560.5" y2="352.6" stroke="#888820" stroke-width="1.7" stroke-linecap="round"/><line x1="579.6" y1="327.5" x2="578.3" y2="330.8" stroke="#e4e490" stroke-width="1.6" stroke-linecap="round"/><line x1="588.2" y1="346.9" x2="592.8" y2="349.1" stroke="#e4e490" stroke-width="1.6" stroke-linecap="round"/><line x1="596.0" y1="317.0" x2="592.6" y2="322.2" stroke="#d8d870" stroke-width="1.1" stroke-linecap="round"/><line x1="559.4" y1="341.5" x2="554.9" y2="342.0" stroke="#c0c048" stroke-width="1.6" stroke-linecap="round"/><line x1="586.7" y1="339.3" x2="584.0" y2="343.4" stroke="#c8c850" stroke-width="1.5" stroke-linecap="round"/><line x1="560.1" y1="351.8" x2="556.9" y2="352.8" stroke="#e4e490" stroke-width="1.1" stroke-linecap="round"/><line x1="588.6" y1="327.5" x2="592.6" y2="328.5" stroke="#d8d870" stroke-width="1.2" stroke-linecap="round"/><line x1="587.9" y1="334.7" x2="585.0" y2="336.2" stroke="#888820" stroke-width="1.8" stroke-linecap="round"/><line x1="583.1" y1="341.5" x2="586.6" y2="342.4" stroke="#888820" stroke-width="1.7" stroke-linecap="round"/><line x1="586.2" y1="340.2" x2="590.7" y2="342.2" stroke="#c0c048" stroke-width="1.3" stroke-linecap="round"/><line x1="588.6" y1="341.9" x2="586.4" y2="345.5" stroke="#e4e490" stroke-width="1.3" stroke-linecap="round"/><line x1="580.2" y1="346.3" x2="575.0" y2="346.4" stroke="#888820" stroke-width="2.0" stroke-linecap="round"/><line x1="599.8" y1="316.5" x2="600.6" y2="322.7" stroke="#c0c048" stroke-width="2.0" stroke-linecap="round"/><line x1="575.4" y1="351.4" x2="572.1" y2="352.1" stroke="#c8c850" stroke-width="1.1" stroke-linecap="round"/><line x1="577.5" y1="351.7" x2="583.2" y2="354.3" stroke="#e4e490" stroke-width="1.3" stroke-linecap="round"/><line x1="560.5" y1="328.8" x2="560.6" y2="335.3" stroke="#c0c048" stroke-width="1.0" stroke-linecap="round"/><line x1="554.9" y1="334.5" x2="555.6" y2="338.6" stroke="#d8d870" stroke-width="1.4" stroke-linecap="round"/><line x1="572.1" y1="321.5" x2="574.3" y2="325.2" stroke="#888820" stroke-width="1.8" stroke-linecap="round"/><line x1="562.9" y1="349.5" x2="558.8" y2="354.7" stroke="#888820" stroke-width="1.3" stroke-linecap="round"/><line x1="559.7" y1="332.3" x2="556.7" y2="333.6" stroke="#c0c048" stroke-width="1.8" stroke-linecap="round"/><line x1="593.5" y1="328.6" x2="599.1" y2="329.5" stroke="#d8d870" stroke-width="1.2" stroke-linecap="round"/><line x1="566.0" y1="336.0" x2="569.8" y2="338.5" stroke="#c0c048" stroke-width="1.9" stroke-linecap="round"/><line x1="597.5" y1="340.6" x2="591.0" y2="342.4" stroke="#e4e490" stroke-width="1.2" stroke-linecap="round"/><line x1="558.2" y1="349.7" x2="559.7" y2="354.9" stroke="#d8d870" stroke-width="1.6" stroke-linecap="round"/><line x1="570.6" y1="320.3" x2="567.2" y2="321.1" stroke="#c0c048" stroke-width="1.4" stroke-linecap="round"/><line x1="570.6" y1="326.1" x2="566.8" y2="330.2" stroke="#c0c048" stroke-width="1.7" stroke-linecap="round"/><line x1="569.0" y1="337.2" x2="570.2" y2="340.6" stroke="#d8d870" stroke-width="1.1" stroke-linecap="round"/><line x1="579.6" y1="345.6" x2="578.8" y2="350.4" stroke="#888820" stroke-width="2.0" stroke-linecap="round"/><line x1="575.4" y1="323.0" x2="578.2" y2="324.9" stroke="#888820" stroke-width="1.6" stroke-linecap="round"/><line x1="572.1" y1="331.1" x2="568.9" y2="333.2" stroke="#c8c850" stroke-width="1.7" stroke-linecap="round"/><line x1="575.2" y1="331.5" x2="574.8" y2="336.0" stroke="#888820" stroke-width="1.8" stroke-linecap="round"/><line x1="577.9" y1="336.9" x2="580.3" y2="342.1" stroke="#e4e490" stroke-width="1.6" stroke-linecap="round"/><line x1="595.4" y1="325.2" x2="598.0" y2="328.2" stroke="#c0c048" stroke-width="1.6" stroke-linecap="round"/><line x1="578.8" y1="328.2" x2="573.0" y2="332.0" stroke="#d8d870" stroke-width="1.0" stroke-linecap="round"/><line x1="589.1" y1="348.3" x2="589.5" y2="353.6" stroke="#c8c850" stroke-width="1.1" stroke-linecap="round"/><line x1="600.2" y1="349.7" x2="599.7" y2="354.6" stroke="#c0c048" stroke-width="1.2" stroke-linecap="round"/><line x1="560.6" y1="321.7" x2="560.2" y2="327.4" stroke="#c0c048" stroke-width="1.1" stroke-linecap="round"/><line x1="590.1" y1="318.0" x2="595.0" y2="320.1" stroke="#c8c850" stroke-width="1.6" stroke-linecap="round"/><line x1="567.8" y1="321.6" x2="571.7" y2="325.5" stroke="#c8c850" stroke-width="1.1" stroke-linecap="round"/><line x1="567.9" y1="351.5" x2="571.2" y2="353.8" stroke="#e4e490" stroke-width="1.0" stroke-linecap="round"/><line x1="579.6" y1="352.9" x2="582.4" y2="356.2" stroke="#d8d870" stroke-width="1.5" stroke-linecap="round"/><line x1="569.3" y1="327.5" x2="563.5" y2="328.2" stroke="#888820" stroke-width="1.1" stroke-linecap="round"/><line x1="565.2" y1="349.1" x2="563.7" y2="352.1" stroke="#d8d870" stroke-width="1.7" stroke-linecap="round"/><line x1="597.5" y1="326.9" x2="601.9" y2="327.3" stroke="#c0c048" stroke-width="1.4" stroke-linecap="round"/><line x1="572.3" y1="316.7" x2="576.1" y2="321.8" stroke="#c8c850" stroke-width="1.2" stroke-linecap="round"/><line x1="603.5" y1="329.1" x2="600.2" y2="331.2" stroke="#d8d870" stroke-width="1.3" stroke-linecap="round"/><line x1="599.0" y1="320.4" x2="596.9" y2="325.4" stroke="#d8d870" stroke-width="1.5" stroke-linecap="round"/><line x1="600.0" y1="317.8" x2="598.0" y2="324.2" stroke="#c8c850" stroke-width="1.2" stroke-linecap="round"/><line x1="600.5" y1="323.8" x2="603.7" y2="324.3" stroke="#c0c048" stroke-width="1.4" stroke-linecap="round"/><line x1="587.9" y1="329.6" x2="591.0" y2="330.8" stroke="#d8d870" stroke-width="1.3" stroke-linecap="round"/><line x1="565.1" y1="351.3" x2="562.9" y2="353.5" stroke="#c0c048" stroke-width="1.8" stroke-linecap="round"/><line x1="601.0" y1="334.2" x2="604.1" y2="335.4" stroke="#c8c850" stroke-width="1.4" stroke-linecap="round"/><line x1="603.1" y1="323.2" x2="599.3" y2="323.6" stroke="#888820" stroke-width="1.8" stroke-linecap="round"/><line x1="567.2" y1="346.9" x2="572.8" y2="348.5" stroke="#d8d870" stroke-width="1.4" stroke-linecap="round"/><line x1="598.1" y1="322.9" x2="600.8" y2="328.9" stroke="#c8c850" stroke-width="1.6" stroke-linecap="round"/><line x1="566.4" y1="339.2" x2="567.7" y2="343.5" stroke="#c0c048" stroke-width="1.1" stroke-linecap="round"/><line x1="601.8" y1="325.8" x2="597.1" y2="330.5" stroke="#888820" stroke-width="1.4" stroke-linecap="round"/><line x1="568.3" y1="352.6" x2="574.2" y2="353.5" stroke="#888820" stroke-width="1.9" stroke-linecap="round"/><line x1="570.4" y1="341.8" x2="568.5" y2="347.7" stroke="#c8c850" stroke-width="1.0" stroke-linecap="round"/><line x1="569.7" y1="335.5" x2="563.0" y2="336.4" stroke="#c0c048" stroke-width="1.8" stroke-linecap="round"/><line x1="596.9" y1="347.1" x2="601.4" y2="349.1" stroke="#c8c850" stroke-width="1.8" stroke-linecap="round"/><line x1="592.7" y1="346.6" x2="588.6" y2="350.1" stroke="#888820" stroke-width="1.9" stroke-linecap="round"/><line x1="578.1" y1="344.6" x2="576.6" y2="349.4" stroke="#c0c048" stroke-width="1.8" stroke-linecap="round"/></g>
<clipPath id="cp8"><rect x="612.6" y="319" width="48.4" height="35.7"/></clipPath><g clip-path="url(#cp8)"><rect x="612.6" y="319" width="48.4" height="35.7" fill="#c05018"/><line x1="620.1" y1="351.9" x2="627.0" y2="354.8" stroke="#e88038" stroke-width="1.1" stroke-linecap="round"/><line x1="651.2" y1="335.1" x2="652.5" y2="339.1" stroke="#a03810" stroke-width="1.5" stroke-linecap="round"/><line x1="638.5" y1="324.7" x2="634.6" y2="327.0" stroke="#f0a050" stroke-width="1.8" stroke-linecap="round"/><line x1="646.2" y1="333.3" x2="646.9" y2="341.8" stroke="#e88038" stroke-width="1.7" stroke-linecap="round"/><line x1="615.9" y1="344.3" x2="618.7" y2="351.9" stroke="#e88038" stroke-width="1.7" stroke-linecap="round"/><line x1="629.0" y1="340.1" x2="629.0" y2="347.3" stroke="#f0a050" stroke-width="1.6" stroke-linecap="round"/><line x1="622.7" y1="320.8" x2="616.3" y2="321.8" stroke="#f0a050" stroke-width="1.1" stroke-linecap="round"/><line x1="655.1" y1="332.3" x2="653.4" y2="338.3" stroke="#f8c070" stroke-width="1.4" stroke-linecap="round"/><line x1="656.8" y1="322.3" x2="653.4" y2="325.3" stroke="#d06020" stroke-width="1.7" stroke-linecap="round"/><line x1="658.6" y1="346.6" x2="658.6" y2="351.6" stroke="#f0a050" stroke-width="1.4" stroke-linecap="round"/><line x1="629.8" y1="340.1" x2="623.0" y2="344.8" stroke="#f8c070" stroke-width="1.2" stroke-linecap="round"/><line x1="623.1" y1="317.1" x2="625.7" y2="321.8" stroke="#a03810" stroke-width="1.3" stroke-linecap="round"/><line x1="626.1" y1="340.7" x2="628.0" y2="347.7" stroke="#e88038" stroke-width="1.2" stroke-linecap="round"/><line x1="641.5" y1="351.5" x2="647.9" y2="356.1" stroke="#d06020" stroke-width="1.1" stroke-linecap="round"/><line x1="654.1" y1="330.9" x2="648.2" y2="334.3" stroke="#f0a050" stroke-width="1.1" stroke-linecap="round"/><line x1="637.8" y1="333.0" x2="642.0" y2="334.1" stroke="#e88038" stroke-width="1.0" stroke-linecap="round"/><line x1="644.9" y1="343.9" x2="644.5" y2="348.7" stroke="#f8c070" stroke-width="1.5" stroke-linecap="round"/><line x1="616.2" y1="338.2" x2="623.3" y2="343.0" stroke="#d06020" stroke-width="1.4" stroke-linecap="round"/><line x1="638.4" y1="341.6" x2="642.4" y2="349.5" stroke="#e88038" stroke-width="1.6" stroke-linecap="round"/><line x1="638.3" y1="317.2" x2="635.2" y2="325.1" stroke="#f8c070" stroke-width="1.2" stroke-linecap="round"/><line x1="626.6" y1="333.5" x2="631.3" y2="335.3" stroke="#f0a050" stroke-width="1.5" stroke-linecap="round"/><line x1="632.3" y1="323.2" x2="638.7" y2="325.8" stroke="#a03810" stroke-width="1.6" stroke-linecap="round"/><line x1="643.3" y1="336.2" x2="651.6" y2="338.6" stroke="#f8c070" stroke-width="1.4" stroke-linecap="round"/><line x1="627.5" y1="325.2" x2="632.6" y2="328.9" stroke="#e88038" stroke-width="1.2" stroke-linecap="round"/><line x1="616.3" y1="339.4" x2="609.3" y2="341.5" stroke="#a03810" stroke-width="1.5" stroke-linecap="round"/><line x1="661.2" y1="341.9" x2="658.7" y2="349.6" stroke="#f8c070" stroke-width="1.2" stroke-linecap="round"/><line x1="626.2" y1="335.2" x2="621.2" y2="340.4" stroke="#e88038" stroke-width="1.3" stroke-linecap="round"/><line x1="624.7" y1="318.2" x2="629.2" y2="325.5" stroke="#a03810" stroke-width="1.2" stroke-linecap="round"/><line x1="629.9" y1="338.3" x2="624.0" y2="338.8" stroke="#d06020" stroke-width="1.5" stroke-linecap="round"/><line x1="645.0" y1="351.4" x2="640.7" y2="354.9" stroke="#e88038" stroke-width="1.2" stroke-linecap="round"/><line x1="633.0" y1="351.9" x2="628.0" y2="354.5" stroke="#d06020" stroke-width="1.4" stroke-linecap="round"/><line x1="631.4" y1="348.1" x2="630.9" y2="355.5" stroke="#d06020" stroke-width="1.8" stroke-linecap="round"/><line x1="641.2" y1="328.8" x2="642.6" y2="335.1" stroke="#f8c070" stroke-width="1.5" stroke-linecap="round"/><line x1="616.5" y1="320.7" x2="616.6" y2="329.0" stroke="#a03810" stroke-width="1.8" stroke-linecap="round"/><line x1="645.5" y1="348.3" x2="640.1" y2="348.6" stroke="#f8c070" stroke-width="1.3" stroke-linecap="round"/><line x1="658.9" y1="339.8" x2="662.7" y2="343.4" stroke="#f0a050" stroke-width="1.8" stroke-linecap="round"/><line x1="651.7" y1="326.0" x2="645.9" y2="329.9" stroke="#f0a050" stroke-width="1.4" stroke-linecap="round"/><line x1="649.1" y1="343.9" x2="651.6" y2="350.7" stroke="#f8c070" stroke-width="2.0" stroke-linecap="round"/><line x1="653.9" y1="345.6" x2="660.4" y2="348.5" stroke="#d06020" stroke-width="1.1" stroke-linecap="round"/><line x1="639.1" y1="348.8" x2="630.9" y2="351.3" stroke="#e88038" stroke-width="1.1" stroke-linecap="round"/><line x1="626.0" y1="353.2" x2="633.8" y2="354.8" stroke="#e88038" stroke-width="1.9" stroke-linecap="round"/><line x1="647.7" y1="330.0" x2="640.8" y2="334.1" stroke="#e88038" stroke-width="1.6" stroke-linecap="round"/><line x1="626.8" y1="327.0" x2="629.3" y2="332.1" stroke="#f8c070" stroke-width="1.9" stroke-linecap="round"/><line x1="656.5" y1="338.4" x2="657.4" y2="343.1" stroke="#a03810" stroke-width="1.1" stroke-linecap="round"/><line x1="648.1" y1="319.1" x2="647.6" y2="323.5" stroke="#f0a050" stroke-width="1.3" stroke-linecap="round"/><line x1="618.3" y1="352.0" x2="626.1" y2="353.5" stroke="#f0a050" stroke-width="1.8" stroke-linecap="round"/><line x1="643.3" y1="329.3" x2="636.1" y2="332.1" stroke="#a03810" stroke-width="1.1" stroke-linecap="round"/><line x1="643.8" y1="320.3" x2="650.9" y2="323.6" stroke="#f0a050" stroke-width="1.3" stroke-linecap="round"/><line x1="633.9" y1="323.6" x2="630.8" y2="326.5" stroke="#a03810" stroke-width="1.6" stroke-linecap="round"/><line x1="645.7" y1="333.1" x2="638.9" y2="334.5" stroke="#d06020" stroke-width="1.7" stroke-linecap="round"/><line x1="658.5" y1="332.7" x2="661.9" y2="340.2" stroke="#f8c070" stroke-width="1.2" stroke-linecap="round"/><line x1="629.0" y1="350.7" x2="621.9" y2="354.8" stroke="#d06020" stroke-width="1.5" stroke-linecap="round"/><line x1="662.3" y1="337.5" x2="657.0" y2="338.6" stroke="#f0a050" stroke-width="1.6" stroke-linecap="round"/><line x1="631.4" y1="320.6" x2="631.6" y2="327.0" stroke="#d06020" stroke-width="1.4" stroke-linecap="round"/><line x1="617.1" y1="331.8" x2="611.5" y2="332.8" stroke="#e88038" stroke-width="1.6" stroke-linecap="round"/><line x1="617.1" y1="343.0" x2="621.9" y2="344.2" stroke="#f8c070" stroke-width="1.9" stroke-linecap="round"/><line x1="650.5" y1="345.7" x2="649.1" y2="352.4" stroke="#e88038" stroke-width="1.4" stroke-linecap="round"/><line x1="638.7" y1="352.0" x2="635.1" y2="356.5" stroke="#d06020" stroke-width="1.1" stroke-linecap="round"/><line x1="631.3" y1="320.9" x2="624.9" y2="324.4" stroke="#a03810" stroke-width="1.4" stroke-linecap="round"/><line x1="631.8" y1="330.6" x2="626.9" y2="333.9" stroke="#e88038" stroke-width="1.7" stroke-linecap="round"/><line x1="658.5" y1="340.8" x2="656.6" y2="344.6" stroke="#f0a050" stroke-width="1.5" stroke-linecap="round"/><line x1="634.0" y1="334.8" x2="638.0" y2="337.2" stroke="#d06020" stroke-width="1.8" stroke-linecap="round"/><line x1="651.2" y1="342.9" x2="649.8" y2="348.0" stroke="#d06020" stroke-width="1.3" stroke-linecap="round"/><line x1="655.5" y1="332.0" x2="652.9" y2="337.9" stroke="#a03810" stroke-width="1.3" stroke-linecap="round"/><line x1="639.1" y1="342.1" x2="642.1" y2="348.5" stroke="#a03810" stroke-width="1.4" stroke-linecap="round"/><line x1="640.6" y1="322.8" x2="640.1" y2="329.7" stroke="#f0a050" stroke-width="1.5" stroke-linecap="round"/><line x1="615.6" y1="336.2" x2="612.9" y2="341.0" stroke="#f0a050" stroke-width="1.6" stroke-linecap="round"/><line x1="623.0" y1="349.1" x2="626.7" y2="351.8" stroke="#e88038" stroke-width="1.4" stroke-linecap="round"/><line x1="650.7" y1="330.1" x2="654.7" y2="330.5" stroke="#e88038" stroke-width="1.7" stroke-linecap="round"/><line x1="636.4" y1="341.7" x2="644.5" y2="342.0" stroke="#d06020" stroke-width="1.3" stroke-linecap="round"/><line x1="620.8" y1="325.4" x2="613.4" y2="329.3" stroke="#e88038" stroke-width="1.5" stroke-linecap="round"/><line x1="625.3" y1="348.9" x2="619.5" y2="354.5" stroke="#a03810" stroke-width="1.9" stroke-linecap="round"/><line x1="629.8" y1="322.6" x2="636.6" y2="325.9" stroke="#d06020" stroke-width="1.9" stroke-linecap="round"/><line x1="632.7" y1="317.3" x2="634.7" y2="324.3" stroke="#e88038" stroke-width="1.3" stroke-linecap="round"/><line x1="648.0" y1="329.2" x2="651.7" y2="331.3" stroke="#d06020" stroke-width="1.3" stroke-linecap="round"/><line x1="637.1" y1="338.1" x2="638.6" y2="342.9" stroke="#f0a050" stroke-width="1.2" stroke-linecap="round"/><line x1="655.3" y1="340.8" x2="648.1" y2="344.0" stroke="#a03810" stroke-width="1.2" stroke-linecap="round"/><line x1="655.5" y1="326.6" x2="649.6" y2="328.4" stroke="#f8c070" stroke-width="1.8" stroke-linecap="round"/><line x1="638.8" y1="333.3" x2="639.6" y2="340.3" stroke="#d06020" stroke-width="1.6" stroke-linecap="round"/><line x1="639.4" y1="333.2" x2="645.5" y2="338.3" stroke="#f8c070" stroke-width="1.9" stroke-linecap="round"/><line x1="638.6" y1="349.0" x2="640.3" y2="356.2" stroke="#f0a050" stroke-width="1.3" stroke-linecap="round"/><line x1="616.1" y1="346.0" x2="621.6" y2="347.3" stroke="#f8c070" stroke-width="1.1" stroke-linecap="round"/><line x1="627.8" y1="338.1" x2="620.3" y2="342.3" stroke="#a03810" stroke-width="1.4" stroke-linecap="round"/><line x1="629.9" y1="319.6" x2="625.3" y2="326.9" stroke="#a03810" stroke-width="1.4" stroke-linecap="round"/><line x1="615.7" y1="327.8" x2="610.5" y2="334.3" stroke="#f0a050" stroke-width="1.0" stroke-linecap="round"/><line x1="614.9" y1="341.8" x2="611.8" y2="346.5" stroke="#a03810" stroke-width="1.9" stroke-linecap="round"/><line x1="614.5" y1="324.7" x2="620.7" y2="325.8" stroke="#e88038" stroke-width="1.5" stroke-linecap="round"/><line x1="619.4" y1="340.9" x2="625.0" y2="342.2" stroke="#a03810" stroke-width="1.7" stroke-linecap="round"/><line x1="661.2" y1="340.2" x2="653.5" y2="341.0" stroke="#d06020" stroke-width="1.6" stroke-linecap="round"/><line x1="659.3" y1="349.8" x2="659.8" y2="356.1" stroke="#f0a050" stroke-width="1.9" stroke-linecap="round"/><line x1="640.6" y1="340.1" x2="636.9" y2="345.5" stroke="#f8c070" stroke-width="1.7" stroke-linecap="round"/><line x1="661.5" y1="336.3" x2="654.7" y2="339.1" stroke="#e88038" stroke-width="1.6" stroke-linecap="round"/><line x1="639.9" y1="346.4" x2="644.8" y2="349.3" stroke="#d06020" stroke-width="1.6" stroke-linecap="round"/><line x1="658.3" y1="338.9" x2="659.1" y2="343.7" stroke="#f0a050" stroke-width="1.7" stroke-linecap="round"/><line x1="654.5" y1="352.2" x2="656.4" y2="356.1" stroke="#a03810" stroke-width="1.6" stroke-linecap="round"/><line x1="626.5" y1="347.8" x2="625.3" y2="355.3" stroke="#a03810" stroke-width="1.4" stroke-linecap="round"/><line x1="647.1" y1="322.2" x2="646.0" y2="329.4" stroke="#d06020" stroke-width="1.1" stroke-linecap="round"/><line x1="628.5" y1="336.5" x2="634.9" y2="340.6" stroke="#d06020" stroke-width="1.6" stroke-linecap="round"/><line x1="648.3" y1="333.3" x2="645.2" y2="336.0" stroke="#d06020" stroke-width="1.3" stroke-linecap="round"/><line x1="635.9" y1="336.3" x2="640.3" y2="336.8" stroke="#d06020" stroke-width="1.3" stroke-linecap="round"/><line x1="659.4" y1="321.6" x2="653.7" y2="324.0" stroke="#a03810" stroke-width="1.1" stroke-linecap="round"/><line x1="650.6" y1="318.8" x2="656.4" y2="321.2" stroke="#d06020" stroke-width="1.7" stroke-linecap="round"/><line x1="653.9" y1="333.1" x2="659.5" y2="335.1" stroke="#a03810" stroke-width="1.8" stroke-linecap="round"/><line x1="648.4" y1="343.0" x2="652.1" y2="346.3" stroke="#f8c070" stroke-width="1.6" stroke-linecap="round"/><line x1="641.0" y1="349.8" x2="648.8" y2="353.8" stroke="#e88038" stroke-width="1.8" stroke-linecap="round"/><line x1="626.4" y1="351.2" x2="631.1" y2="352.5" stroke="#d06020" stroke-width="1.6" stroke-linecap="round"/><line x1="652.6" y1="350.6" x2="655.6" y2="354.7" stroke="#e88038" stroke-width="1.6" stroke-linecap="round"/><line x1="658.4" y1="325.8" x2="654.1" y2="328.0" stroke="#f0a050" stroke-width="1.5" stroke-linecap="round"/><line x1="651.3" y1="337.4" x2="658.6" y2="339.4" stroke="#e88038" stroke-width="1.4" stroke-linecap="round"/><line x1="657.1" y1="332.0" x2="657.3" y2="337.1" stroke="#e88038" stroke-width="1.9" stroke-linecap="round"/><line x1="641.3" y1="319.1" x2="640.0" y2="326.1" stroke="#a03810" stroke-width="1.0" stroke-linecap="round"/><line x1="623.7" y1="349.5" x2="626.5" y2="356.2" stroke="#f0a050" stroke-width="1.6" stroke-linecap="round"/><line x1="637.0" y1="352.2" x2="641.0" y2="352.8" stroke="#e88038" stroke-width="1.3" stroke-linecap="round"/><line x1="627.2" y1="352.8" x2="622.1" y2="355.5" stroke="#f8c070" stroke-width="1.7" stroke-linecap="round"/><line x1="634.1" y1="321.6" x2="625.8" y2="322.3" stroke="#f0a050" stroke-width="1.5" stroke-linecap="round"/><line x1="625.6" y1="339.0" x2="626.8" y2="343.8" stroke="#e88038" stroke-width="1.8" stroke-linecap="round"/><line x1="626.3" y1="335.5" x2="629.5" y2="338.3" stroke="#d06020" stroke-width="1.9" stroke-linecap="round"/><line x1="634.3" y1="344.5" x2="640.5" y2="348.0" stroke="#d06020" stroke-width="1.2" stroke-linecap="round"/><line x1="644.1" y1="345.0" x2="648.3" y2="345.2" stroke="#f8c070" stroke-width="1.8" stroke-linecap="round"/><line x1="630.2" y1="322.8" x2="623.6" y2="325.2" stroke="#e88038" stroke-width="1.1" stroke-linecap="round"/><line x1="615.6" y1="334.8" x2="613.7" y2="340.3" stroke="#a03810" stroke-width="1.7" stroke-linecap="round"/><line x1="647.7" y1="331.1" x2="642.2" y2="331.6" stroke="#f0a050" stroke-width="1.4" stroke-linecap="round"/><line x1="631.6" y1="338.7" x2="636.6" y2="343.1" stroke="#f8c070" stroke-width="1.3" stroke-linecap="round"/><line x1="617.6" y1="324.6" x2="615.9" y2="331.8" stroke="#d06020" stroke-width="1.3" stroke-linecap="round"/><line x1="633.9" y1="328.8" x2="640.2" y2="328.8" stroke="#a03810" stroke-width="2.0" stroke-linecap="round"/><line x1="661.1" y1="338.7" x2="657.2" y2="344.1" stroke="#e88038" stroke-width="1.7" stroke-linecap="round"/><line x1="616.0" y1="340.9" x2="621.6" y2="341.8" stroke="#d06020" stroke-width="1.6" stroke-linecap="round"/><line x1="643.9" y1="342.3" x2="642.4" y2="350.9" stroke="#a03810" stroke-width="1.5" stroke-linecap="round"/><line x1="629.7" y1="342.7" x2="624.2" y2="346.8" stroke="#a03810" stroke-width="1.5" stroke-linecap="round"/><line x1="647.8" y1="319.7" x2="649.7" y2="325.0" stroke="#a03810" stroke-width="1.5" stroke-linecap="round"/><line x1="642.2" y1="317.0" x2="641.3" y2="325.4" stroke="#f0a050" stroke-width="1.8" stroke-linecap="round"/><line x1="638.3" y1="330.6" x2="641.2" y2="335.1" stroke="#d06020" stroke-width="1.8" stroke-linecap="round"/><line x1="612.3" y1="326.4" x2="614.0" y2="332.9" stroke="#a03810" stroke-width="1.3" stroke-linecap="round"/><line x1="636.6" y1="324.8" x2="635.5" y2="329.5" stroke="#f0a050" stroke-width="1.9" stroke-linecap="round"/><line x1="624.0" y1="324.9" x2="616.7" y2="329.6" stroke="#a03810" stroke-width="1.6" stroke-linecap="round"/><line x1="620.2" y1="350.8" x2="627.1" y2="353.1" stroke="#d06020" stroke-width="1.0" stroke-linecap="round"/><line x1="649.1" y1="320.3" x2="642.8" y2="323.4" stroke="#f8c070" stroke-width="1.5" stroke-linecap="round"/><line x1="652.7" y1="339.6" x2="647.6" y2="344.9" stroke="#f0a050" stroke-width="1.7" stroke-linecap="round"/><line x1="612.6" y1="320.0" x2="617.4" y2="326.0" stroke="#f0a050" stroke-width="1.8" stroke-linecap="round"/><line x1="642.3" y1="350.9" x2="649.4" y2="352.3" stroke="#f0a050" stroke-width="1.8" stroke-linecap="round"/></g>
<rect x="450.4" y="345.4" width="22.50" height="8.60" fill="#fff"/><text x="461.65" y="350.92" font-size="3.40" text-anchor="middle" fill="#111" font-family="Liberation Serif" stroke="#111" stroke-width="0.15" textLength="8.84" lengthAdjust="spacingAndGlyphs">Перец</text>
<rect x="510.8" y="345.5" width="22.10" height="8.70" fill="#fff"/><text x="521.85" y="351.07" font-size="3.40" text-anchor="middle" fill="#111" font-family="Liberation Serif" stroke="#111" stroke-width="0.15" textLength="8.84" lengthAdjust="spacingAndGlyphs">Грибы</text>
<rect x="569" y="345.8" width="21.70" height="7.50" fill="#fff"/><text x="579.85" y="350.77" font-size="3.40" text-anchor="middle" fill="#111" font-family="Liberation Serif" stroke="#111" stroke-width="0.15" textLength="14.14" lengthAdjust="spacingAndGlyphs">виноград</text>
<rect x="625" y="343.5" width="20.80" height="9.80" fill="#fff"/><text x="635.40" y="347.17" font-size="3.40" text-anchor="middle" fill="#111" font-family="Liberation Serif" stroke="#111" stroke-width="0.15" textLength="12.38" lengthAdjust="spacingAndGlyphs">морские</text><text x="635.40" y="352.07" font-size="3.40" text-anchor="middle" fill="#111" font-family="Liberation Serif" stroke="#111" stroke-width="0.15" textLength="14.14" lengthAdjust="spacingAndGlyphs">продукты</text>
<rect x="311" y="269.4" width="51.8" height="37" rx="2.5" fill="#d4d4d4" stroke="#555" stroke-width="0.8"/>
<rect x="313.8" y="272.2" width="46.2" height="31.4" rx="2.5" fill="#cfcfcf" stroke="#6a6a6a" stroke-width="0.6"/>
<path d="M318,276 L325,282 M356,276 L349,282 M318,299 L325,293 M356,299 L349,293" stroke="#777" stroke-width="2"/>
<path d="M318,276 L325,282 M356,276 L349,282 M318,299 L325,293 M356,299 L349,293" stroke="#f0f0f0" stroke-width="0.9"/>
<rect x="324.4" y="277.2" width="25.5" height="20" rx="2" fill="#dadada" stroke="#4a4a4a" stroke-width="0.7"/>
<circle cx="318.7" cy="287" r="3" fill="#8a8a8a" stroke="#444" stroke-width="0.6"/><circle cx="318.7" cy="287" r="1.3" fill="#e8e8e8"/>
<circle cx="355.2" cy="287" r="3" fill="#8a8a8a" stroke="#444" stroke-width="0.6"/><circle cx="355.2" cy="287" r="1.3" fill="#e8e8e8"/>
<g fill="none" stroke="#111" stroke-width="0.9" stroke-linecap="round" transform="translate(337.3 287.5) scale(1.12 1.05) translate(-337.3 -287.5)"><path d="M329,285 l0.7,0.6 M328.8,287 l0.8,0.5 M329,290.3 l0.9,-1.6 M331.6,284.4 l-0.5,1 M331.3,285.3 h3.4 M331.4,286.2 h3 v3.6 h-3 z M330.6,288 h4.6 M332.6,286.4 l0.3,3.3"/><path d="M339,284.2 v0.7 M336.6,285.1 h4.8 M337.6,285.5 l0.5,1 M340.4,285.5 l-0.5,1 M336.4,287.8 v-1 h5.2 v1 M337.3,288.3 h3.4 v1.8 M339,287.3 v3.6 M337.3,288.3 v1.8"/><path d="M345.2,284.4 l-2.5,1 M342.3,287.4 h5.6 M344,285.4 v1.2 l-0.3,2 l-1.3,1.8 M346.2,284.6 v6"/></g>
<circle cx="319" cy="287" r="2.6" fill="#e8e8e8" stroke="#555" stroke-width="0.7"/><circle cx="354" cy="287" r="2.6" fill="#e8e8e8" stroke="#555" stroke-width="0.7"/>
<path d="M317,275 L323,280 M357,275 L351,280 M317,300 L323,295 M357,300 L351,295" stroke="#888" stroke-width="1.2"/>
<rect x="324.3" y="306.2" width="27.7" height="4" fill="#cfcfcf" stroke="#777" stroke-width="0.5"/>
<path d="M313,320 Q313,310 324,309.6 L351,309.6 Q362,310 362.5,320 Z" fill="#b4b4b4" stroke="#444" stroke-width="0.7"/>
<line x1="316.5" y1="315.5" x2="316.5" y2="318.5" stroke="#2a2a2a" stroke-width="0.8"/><line x1="318.7" y1="315.5" x2="318.7" y2="318.5" stroke="#2a2a2a" stroke-width="0.8"/><line x1="320.9" y1="315.5" x2="320.9" y2="318.5" stroke="#2a2a2a" stroke-width="0.8"/><line x1="323.1" y1="313.5" x2="323.1" y2="318.5" stroke="#2a2a2a" stroke-width="0.8"/><line x1="325.3" y1="313.5" x2="325.3" y2="318.5" stroke="#2a2a2a" stroke-width="0.8"/><line x1="327.5" y1="313.5" x2="327.5" y2="318.5" stroke="#2a2a2a" stroke-width="0.8"/><line x1="329.7" y1="313.5" x2="329.7" y2="318.5" stroke="#2a2a2a" stroke-width="0.8"/><line x1="331.9" y1="313.5" x2="331.9" y2="318.5" stroke="#2a2a2a" stroke-width="0.8"/><line x1="334.1" y1="313.5" x2="334.1" y2="318.5" stroke="#2a2a2a" stroke-width="0.8"/><line x1="336.3" y1="313.5" x2="336.3" y2="318.5" stroke="#2a2a2a" stroke-width="0.8"/><line x1="338.5" y1="313.5" x2="338.5" y2="318.5" stroke="#2a2a2a" stroke-width="0.8"/><line x1="340.7" y1="313.5" x2="340.7" y2="318.5" stroke="#2a2a2a" stroke-width="0.8"/><line x1="342.9" y1="313.5" x2="342.9" y2="318.5" stroke="#2a2a2a" stroke-width="0.8"/><line x1="345.1" y1="313.5" x2="345.1" y2="318.5" stroke="#2a2a2a" stroke-width="0.8"/><line x1="347.3" y1="313.5" x2="347.3" y2="318.5" stroke="#2a2a2a" stroke-width="0.8"/><line x1="349.5" y1="313.5" x2="349.5" y2="318.5" stroke="#2a2a2a" stroke-width="0.8"/><line x1="351.7" y1="313.5" x2="351.7" y2="318.5" stroke="#2a2a2a" stroke-width="0.8"/><line x1="353.9" y1="313.5" x2="353.9" y2="318.5" stroke="#2a2a2a" stroke-width="0.8"/><line x1="356.1" y1="315.5" x2="356.1" y2="318.5" stroke="#2a2a2a" stroke-width="0.8"/><line x1="358.3" y1="315.5" x2="358.3" y2="318.5" stroke="#2a2a2a" stroke-width="0.8"/><line x1="360.5" y1="315.5" x2="360.5" y2="318.5" stroke="#2a2a2a" stroke-width="0.8"/>
<rect x="312.2" y="318.8" width="51.2" height="57.5" rx="1.5" fill="#d4d4d4" stroke="#777" stroke-width="0.6"/>
<rect x="311.8" y="318.6" width="52" height="3.4" rx="1" fill="#e0e0e0" stroke="#777" stroke-width="0.5"/>
<rect x="334.3" y="322" width="7" height="5.6" fill="#e4e4e4" stroke="#888" stroke-width="0.4"/>
<rect x="321" y="327.6" width="35.3" height="33.2" fill="#f4ece4" stroke="#888" stroke-width="0.6"/>
<clipPath id="cpf"><rect x="327.5" y="330.5" width="23.5" height="29"/></clipPath><g clip-path="url(#cpf)"><rect x="327.5" y="330.5" width="23.5" height="29" fill="#e25a0c"/><ellipse cx="338.4" cy="341.3" rx="1.1" ry="1.1" fill="#d84008"/><ellipse cx="343.4" cy="340.3" rx="1.4" ry="1.4" fill="#f07818"/><ellipse cx="329.4" cy="346.6" rx="1.6" ry="1.6" fill="#f7a020"/><ellipse cx="344.6" cy="335.4" rx="1.9" ry="1.9" fill="#ffe8a0"/><ellipse cx="337.4" cy="335.4" rx="1.0" ry="1.0" fill="#c83000"/><ellipse cx="339.4" cy="357.3" rx="1.5" ry="1.5" fill="#d84008"/><ellipse cx="343.7" cy="353.4" rx="1.9" ry="1.9" fill="#fcd050"/><ellipse cx="332.3" cy="337.0" rx="1.8" ry="1.8" fill="#f7a020"/><ellipse cx="345.7" cy="356.9" rx="1.3" ry="1.3" fill="#fcd050"/><ellipse cx="346.5" cy="336.3" rx="1.9" ry="1.9" fill="#a02000"/><ellipse cx="328.8" cy="341.5" rx="1.4" ry="1.4" fill="#f7a020"/><ellipse cx="333.1" cy="351.9" rx="1.8" ry="1.8" fill="#f07818"/><ellipse cx="327.6" cy="352.7" rx="1.1" ry="1.1" fill="#d84008"/><ellipse cx="332.3" cy="330.7" rx="1.0" ry="1.0" fill="#f07818"/><ellipse cx="349.1" cy="345.0" rx="1.5" ry="1.5" fill="#f07818"/><ellipse cx="349.1" cy="342.7" rx="1.3" ry="1.3" fill="#ffe8a0"/><ellipse cx="345.5" cy="350.8" rx="1.1" ry="1.1" fill="#f07818"/><ellipse cx="344.4" cy="331.7" rx="1.2" ry="1.2" fill="#ffe8a0"/><ellipse cx="341.7" cy="334.8" rx="1.2" ry="1.2" fill="#f07818"/><ellipse cx="351.0" cy="334.0" rx="1.7" ry="1.7" fill="#c83000"/><ellipse cx="331.3" cy="345.1" rx="1.7" ry="1.7" fill="#d84008"/><ellipse cx="343.3" cy="347.6" rx="1.8" ry="1.8" fill="#f7a020"/><ellipse cx="347.9" cy="333.7" rx="1.9" ry="1.9" fill="#fcd050"/><ellipse cx="338.1" cy="342.2" rx="2.0" ry="2.0" fill="#f07818"/><ellipse cx="345.0" cy="341.5" rx="1.6" ry="1.6" fill="#f7a020"/><ellipse cx="337.7" cy="336.7" rx="1.4" ry="1.4" fill="#fcd050"/><ellipse cx="346.6" cy="339.4" rx="1.2" ry="1.2" fill="#f07818"/><ellipse cx="345.9" cy="331.2" rx="1.8" ry="1.8" fill="#d84008"/><ellipse cx="337.6" cy="340.5" rx="1.8" ry="1.8" fill="#f07818"/><ellipse cx="344.8" cy="342.8" rx="1.2" ry="1.2" fill="#d84008"/><ellipse cx="336.9" cy="341.3" rx="1.8" ry="1.8" fill="#fcd050"/><ellipse cx="330.8" cy="338.9" rx="1.7" ry="1.7" fill="#fcd050"/><ellipse cx="328.2" cy="357.7" rx="1.8" ry="1.8" fill="#fcd050"/><ellipse cx="349.7" cy="359.1" rx="1.6" ry="1.6" fill="#f7a020"/><ellipse cx="328.6" cy="343.6" rx="1.8" ry="1.8" fill="#fcd050"/><ellipse cx="341.9" cy="358.5" rx="1.3" ry="1.3" fill="#c83000"/><ellipse cx="338.8" cy="338.6" rx="2.0" ry="2.0" fill="#ffe8a0"/><ellipse cx="340.6" cy="350.7" rx="1.0" ry="1.0" fill="#a02000"/><ellipse cx="330.8" cy="346.8" rx="1.8" ry="1.8" fill="#f07818"/><ellipse cx="348.3" cy="335.4" rx="1.7" ry="1.7" fill="#d84008"/><ellipse cx="341.5" cy="348.1" rx="1.3" ry="1.3" fill="#f7a020"/><ellipse cx="334.0" cy="334.2" rx="1.8" ry="1.8" fill="#d84008"/><ellipse cx="329.5" cy="353.1" rx="1.1" ry="1.1" fill="#f7a020"/><ellipse cx="332.3" cy="344.2" rx="1.6" ry="1.6" fill="#f07818"/><ellipse cx="336.6" cy="335.5" rx="1.4" ry="1.4" fill="#fcd050"/><ellipse cx="340.1" cy="357.8" rx="0.9" ry="0.9" fill="#f07818"/><ellipse cx="348.4" cy="346.3" rx="1.5" ry="1.5" fill="#f07818"/><ellipse cx="342.6" cy="353.6" rx="1.9" ry="1.9" fill="#f07818"/><ellipse cx="340.2" cy="339.2" rx="1.7" ry="1.7" fill="#ffe8a0"/><ellipse cx="330.7" cy="333.4" rx="1.4" ry="1.4" fill="#f7a020"/><ellipse cx="339.0" cy="349.0" rx="1.0" ry="1.0" fill="#f07818"/><ellipse cx="328.2" cy="337.6" rx="1.4" ry="1.4" fill="#fcd050"/><ellipse cx="346.8" cy="351.7" rx="1.6" ry="1.6" fill="#c83000"/><ellipse cx="328.3" cy="347.8" rx="1.6" ry="1.6" fill="#ffe8a0"/><ellipse cx="337.1" cy="347.6" rx="1.0" ry="1.0" fill="#f7a020"/><ellipse cx="341.8" cy="335.8" rx="1.0" ry="1.0" fill="#fcd050"/><ellipse cx="342.2" cy="346.4" rx="1.4" ry="1.4" fill="#ffe8a0"/><ellipse cx="345.7" cy="340.2" rx="1.8" ry="1.8" fill="#f7a020"/><ellipse cx="338.4" cy="343.5" rx="1.1" ry="1.1" fill="#a02000"/><ellipse cx="350.7" cy="354.7" rx="1.0" ry="1.0" fill="#fcd050"/><ellipse cx="343.3" cy="343.6" rx="1.0" ry="1.0" fill="#c83000"/><ellipse cx="330.1" cy="332.0" rx="1.0" ry="1.0" fill="#ffe8a0"/><ellipse cx="350.4" cy="341.3" rx="1.7" ry="1.7" fill="#a02000"/><ellipse cx="342.2" cy="336.3" rx="1.9" ry="1.9" fill="#f7a020"/><ellipse cx="333.0" cy="337.9" rx="1.5" ry="1.5" fill="#c83000"/><ellipse cx="327.9" cy="337.8" rx="1.6" ry="1.6" fill="#f7a020"/><ellipse cx="339.7" cy="342.6" rx="1.9" ry="1.9" fill="#a02000"/><ellipse cx="347.5" cy="348.1" rx="1.1" ry="1.1" fill="#f7a020"/><ellipse cx="343.5" cy="334.3" rx="0.9" ry="0.9" fill="#c83000"/><ellipse cx="350.4" cy="353.3" rx="1.9" ry="1.9" fill="#f7a020"/><ellipse cx="348.1" cy="357.2" rx="2.0" ry="2.0" fill="#f7a020"/><ellipse cx="328.2" cy="343.2" rx="1.4" ry="1.4" fill="#fcd050"/><ellipse cx="339.1" cy="340.6" rx="1.8" ry="1.8" fill="#a02000"/><ellipse cx="337.6" cy="332.8" rx="1.2" ry="1.2" fill="#a02000"/><ellipse cx="341.8" cy="347.0" rx="1.4" ry="1.4" fill="#c83000"/><ellipse cx="335.2" cy="332.2" rx="1.0" ry="1.0" fill="#fcd050"/><ellipse cx="340.3" cy="336.0" rx="1.7" ry="1.7" fill="#ffe8a0"/><ellipse cx="348.6" cy="357.9" rx="1.0" ry="1.0" fill="#a02000"/><ellipse cx="350.1" cy="347.9" rx="1.9" ry="1.9" fill="#ffe8a0"/><ellipse cx="344.7" cy="336.6" rx="1.5" ry="1.5" fill="#fcd050"/><ellipse cx="329.3" cy="349.9" rx="1.4" ry="1.4" fill="#c83000"/><ellipse cx="347.9" cy="339.9" rx="1.8" ry="1.8" fill="#f07818"/><ellipse cx="339.3" cy="343.9" rx="0.9" ry="0.9" fill="#f07818"/><ellipse cx="332.3" cy="337.0" rx="2.0" ry="2.0" fill="#fcd050"/><ellipse cx="328.5" cy="334.8" rx="1.1" ry="1.1" fill="#f7a020"/><ellipse cx="339.5" cy="353.4" rx="1.3" ry="1.3" fill="#d84008"/><ellipse cx="336.8" cy="356.3" rx="1.5" ry="1.5" fill="#c83000"/><ellipse cx="339.5" cy="340.9" rx="1.9" ry="1.9" fill="#c83000"/><ellipse cx="335.0" cy="341.7" rx="1.1" ry="1.1" fill="#f07818"/><ellipse cx="345.8" cy="335.7" rx="1.1" ry="1.1" fill="#fcd050"/><ellipse cx="343.6" cy="331.1" rx="1.4" ry="1.4" fill="#d84008"/><ellipse cx="345.2" cy="342.9" rx="2.0" ry="2.0" fill="#f7a020"/><ellipse cx="333.9" cy="334.7" rx="1.4" ry="1.4" fill="#ffe8a0"/><ellipse cx="350.9" cy="335.7" rx="1.1" ry="1.1" fill="#ffe8a0"/><ellipse cx="335.7" cy="347.9" rx="1.5" ry="1.5" fill="#fcd050"/><ellipse cx="328.1" cy="335.9" rx="1.8" ry="1.8" fill="#ffe8a0"/><ellipse cx="345.4" cy="343.7" rx="1.3" ry="1.3" fill="#ffe8a0"/><ellipse cx="340.3" cy="356.7" rx="1.1" ry="1.1" fill="#c83000"/><ellipse cx="347.2" cy="347.0" rx="0.9" ry="0.9" fill="#f07818"/><ellipse cx="351.0" cy="357.6" rx="1.7" ry="1.7" fill="#a02000"/><ellipse cx="336.2" cy="341.3" rx="1.8" ry="1.8" fill="#a02000"/><ellipse cx="337.8" cy="351.6" rx="1.1" ry="1.1" fill="#f7a020"/><ellipse cx="349.1" cy="358.5" rx="1.0" ry="1.0" fill="#fcd050"/><ellipse cx="333.6" cy="337.7" rx="1.4" ry="1.4" fill="#f07818"/><ellipse cx="331.9" cy="345.9" rx="1.9" ry="1.9" fill="#f07818"/><ellipse cx="335.4" cy="337.0" rx="2.0" ry="2.0" fill="#f7a020"/><ellipse cx="328.8" cy="355.3" rx="1.5" ry="1.5" fill="#c83000"/><ellipse cx="342.9" cy="340.3" rx="1.7" ry="1.7" fill="#fcd050"/><ellipse cx="334.5" cy="331.5" rx="1.3" ry="1.3" fill="#d84008"/><ellipse cx="333.3" cy="344.0" rx="1.7" ry="1.7" fill="#fcd050"/></g>
<rect x="327.5" y="330.5" width="23.5" height="29" fill="none" stroke="#fbe8d0" stroke-width="1.5" opacity="0.8"/>
<rect x="295.5" y="336.5" width="18.8" height="13.3" fill="#c8c8c8" stroke="#777" stroke-width="0.5"/>
<line x1="299" y1="336.5" x2="299" y2="349.8" stroke="#888" stroke-width="0.5"/><line x1="306" y1="336.5" x2="306" y2="349.8" stroke="#888" stroke-width="0.5"/>
<rect x="295.5" y="358.6" width="24" height="8.8" fill="#c8c8c8" stroke="#777" stroke-width="0.5"/>
<circle cx="324.3" cy="360.8" r="7.6" fill="#d6d6d6" stroke="#5a5a5a" stroke-width="0.8"/><circle cx="324.3" cy="360.8" r="4.6" fill="#e6e6e6" stroke="#6a6a6a" stroke-width="0.8"/><circle cx="324.3" cy="360.8" r="1.6" fill="#999"/>
<circle cx="338.2" cy="368.5" r="4.2" fill="#c8c8c8" stroke="#666" stroke-width="0.6"/><circle cx="338.2" cy="368.5" r="2" fill="#eee" stroke="#666" stroke-width="0.5"/>
<rect x="318" y="372" width="16" height="6" fill="#bcbcbc" stroke="#777" stroke-width="0.5"/>
<rect x="325" y="376" width="2" height="4.5" fill="#333"/><rect x="351" y="376" width="2" height="4.5" fill="#333"/>
<line x1="316" y1="381" x2="316" y2="392" stroke="#777" stroke-width="0.5"/><line x1="332" y1="381" x2="332" y2="392" stroke="#777" stroke-width="0.5"/>
<g opacity="0.93"><path d="M337.80,254.70 L337.80,235.00 Q337.80,231.20 341.60,231.20 L364.80,231.20" fill="none" stroke="#5a5ad0" stroke-width="4.699999999999999" stroke-opacity="0.45"/><polygon points="372.40,231.20 364.00,236.00 364.00,226.40" fill="#ee5530" stroke="#5a5ad0" stroke-width="0.7" stroke-opacity="0.8" stroke-linejoin="round"/><path d="M337.80,254.70 L337.80,235.00 Q337.80,231.20 341.60,231.20 L364.80,231.20" fill="none" stroke="#ee5530" stroke-width="3.8999999999999995"/></g>
<g opacity="0.93"><path d="M402.90,231.00 L465.20,231.00 Q469.00,231.00 469.00,234.80 L469.00,261.90" fill="none" stroke="#5a5ad0" stroke-width="4.699999999999999" stroke-opacity="0.45"/><polygon points="469.00,269.50 464.20,261.10 473.80,261.10" fill="#ee5530" stroke="#5a5ad0" stroke-width="0.7" stroke-opacity="0.8" stroke-linejoin="round"/><path d="M402.90,231.00 L465.20,231.00 Q469.00,231.00 469.00,234.80 L469.00,261.90" fill="none" stroke="#ee5530" stroke-width="3.8999999999999995"/></g>
<g opacity="0.93"><path d="M492.50,231.00 L541.90,231.00 Q545.70,231.00 545.70,234.80 L545.70,261.40" fill="none" stroke="#5a5ad0" stroke-width="4.699999999999999" stroke-opacity="0.45"/><polygon points="545.70,269.00 540.90,260.60 550.50,260.60" fill="#ee5530" stroke="#5a5ad0" stroke-width="0.7" stroke-opacity="0.8" stroke-linejoin="round"/><path d="M492.50,231.00 L541.90,231.00 Q545.70,231.00 545.70,234.80 L545.70,261.40" fill="none" stroke="#ee5530" stroke-width="3.8999999999999995"/></g>
<g opacity="0.93"><path d="M580.00,230.80 L629.50,230.80 Q633.30,230.80 633.30,234.60 L633.30,261.60" fill="none" stroke="#5a5ad0" stroke-width="4.699999999999999" stroke-opacity="0.45"/><polygon points="633.30,269.20 628.50,260.80 638.10,260.80" fill="#ee5530" stroke="#5a5ad0" stroke-width="0.7" stroke-opacity="0.8" stroke-linejoin="round"/><path d="M580.00,230.80 L629.50,230.80 Q633.30,230.80 633.30,234.60 L633.30,261.60" fill="none" stroke="#ee5530" stroke-width="3.8999999999999995"/></g>
<g opacity="0.93"><path d="M474.80,301.80 L447.20,301.80" fill="none" stroke="#5a5ad0" stroke-width="4.699999999999999" stroke-opacity="0.45"/><polygon points="439.60,301.80 448.00,297.00 448.00,306.60" fill="#ee5530" stroke="#5a5ad0" stroke-width="0.7" stroke-opacity="0.8" stroke-linejoin="round"/><path d="M474.80,301.80 L447.20,301.80" fill="none" stroke="#ee5530" stroke-width="3.8999999999999995"/></g>
<g opacity="0.93"><path d="M552.50,301.20 L525.10,301.20" fill="none" stroke="#5a5ad0" stroke-width="4.699999999999999" stroke-opacity="0.45"/><polygon points="517.50,301.20 525.90,296.40 525.90,306.00" fill="#ee5530" stroke="#5a5ad0" stroke-width="0.7" stroke-opacity="0.8" stroke-linejoin="round"/><path d="M552.50,301.20 L525.10,301.20" fill="none" stroke="#ee5530" stroke-width="3.8999999999999995"/></g>
<g opacity="0.93"><path d="M632.60,300.70 L604.60,300.70" fill="none" stroke="#5a5ad0" stroke-width="4.699999999999999" stroke-opacity="0.45"/><polygon points="597.00,300.70 605.40,295.90 605.40,305.50" fill="#ee5530" stroke="#5a5ad0" stroke-width="0.7" stroke-opacity="0.8" stroke-linejoin="round"/><path d="M632.60,300.70 L604.60,300.70" fill="none" stroke="#ee5530" stroke-width="3.8999999999999995"/></g>
<g opacity="0.93"><path d="M475.10,321.60 L446.90,321.60" fill="none" stroke="#5a5ad0" stroke-width="4.699999999999999" stroke-opacity="0.45"/><polygon points="439.30,321.60 447.70,316.80 447.70,326.40" fill="#ee5530" stroke="#5a5ad0" stroke-width="0.7" stroke-opacity="0.8" stroke-linejoin="round"/><path d="M475.10,321.60 L446.90,321.60" fill="none" stroke="#ee5530" stroke-width="3.8999999999999995"/></g>
<g opacity="0.93"><path d="M552.10,321.00 L525.40,321.00" fill="none" stroke="#5a5ad0" stroke-width="4.699999999999999" stroke-opacity="0.45"/><polygon points="517.80,321.00 526.20,316.20 526.20,325.80" fill="#ee5530" stroke="#5a5ad0" stroke-width="0.7" stroke-opacity="0.8" stroke-linejoin="round"/><path d="M552.10,321.00 L525.40,321.00" fill="none" stroke="#ee5530" stroke-width="3.8999999999999995"/></g>
<g opacity="0.93"><path d="M633.00,320.40 L604.60,320.40" fill="none" stroke="#5a5ad0" stroke-width="4.699999999999999" stroke-opacity="0.45"/><polygon points="597.00,320.40 605.40,315.60 605.40,325.20" fill="#ee5530" stroke="#5a5ad0" stroke-width="0.7" stroke-opacity="0.8" stroke-linejoin="round"/><path d="M633.00,320.40 L604.60,320.40" fill="none" stroke="#ee5530" stroke-width="3.8999999999999995"/></g>
<g opacity="0.93"><path d="M411.00,373.40 L472.40,373.40 Q476.20,373.40 476.20,369.60 L476.20,348.10" fill="none" stroke="#5a5ad0" stroke-width="4.699999999999999" stroke-opacity="0.45"/><polygon points="476.20,340.50 481.00,348.90 471.40,348.90" fill="#ee5530" stroke="#5a5ad0" stroke-width="0.7" stroke-opacity="0.8" stroke-linejoin="round"/><path d="M411.00,373.40 L472.40,373.40 Q476.20,373.40 476.20,369.60 L476.20,348.10" fill="none" stroke="#ee5530" stroke-width="3.8999999999999995"/></g>
<g opacity="0.93"><path d="M491.00,373.50 L540.70,373.50 Q544.50,373.50 544.50,369.70 L544.50,349.00" fill="none" stroke="#5a5ad0" stroke-width="4.699999999999999" stroke-opacity="0.45"/><polygon points="544.50,341.40 549.30,349.80 539.70,349.80" fill="#ee5530" stroke="#5a5ad0" stroke-width="0.7" stroke-opacity="0.8" stroke-linejoin="round"/><path d="M491.00,373.50 L540.70,373.50 Q544.50,373.50 544.50,369.70 L544.50,349.00" fill="none" stroke="#ee5530" stroke-width="3.8999999999999995"/></g>
<g opacity="0.93"><path d="M596.30,373.40 L645.70,373.40 Q649.50,373.40 649.50,369.60 L649.50,348.80" fill="none" stroke="#5a5ad0" stroke-width="4.699999999999999" stroke-opacity="0.45"/><polygon points="649.50,341.20 654.30,349.60 644.70,349.60" fill="#ee5530" stroke="#5a5ad0" stroke-width="0.7" stroke-opacity="0.8" stroke-linejoin="round"/><path d="M596.30,373.40 L645.70,373.40 Q649.50,373.40 649.50,369.60 L649.50,348.80" fill="none" stroke="#ee5530" stroke-width="3.8999999999999995"/></g>
<g opacity="0.93"><path d="M353.00,372.50 L371.00,372.50" fill="none" stroke="#5a5ad0" stroke-width="4.699999999999999" stroke-opacity="0.45"/><polygon points="378.60,372.50 370.20,377.30 370.20,367.70" fill="#ee5530" stroke="#5a5ad0" stroke-width="0.7" stroke-opacity="0.8" stroke-linejoin="round"/><path d="M353.00,372.50 L371.00,372.50" fill="none" stroke="#ee5530" stroke-width="3.8999999999999995"/></g><line x1="411.8" y1="119.2" x2="382.0" y2="290.0" stroke="#c0aba5" stroke-width="1.7"/>
<line x1="561.0" y1="120.5" x2="422.5" y2="261.5" stroke="#c0aba5" stroke-width="1.7"/>
<line x1="257.0" y1="206.0" x2="333.5" y2="279.7" stroke="#c0aba5" stroke-width="1.7"/>
<line x1="734.0" y1="215.6" x2="411.0" y2="308.0" stroke="#c0aba5" stroke-width="1.7"/>
<line x1="754.6" y1="337.0" x2="450.4" y2="343.3" stroke="#c0aba5" stroke-width="1.7"/>
<line x1="227.5" y1="353.0" x2="318.0" y2="362.0" stroke="#c0aba5" stroke-width="1.7"/></svg>
<div class="box" style="left:263.9px;top:20.0px;width:149.10000000000002px;height:98.55px"></div>
<div class="box" style="left:62.6px;top:134.15px;width:148.4px;height:101.15px"></div>
<div class="box" style="left:562px;top:21.3px;width:144.20000000000005px;height:98.3px"></div>
<div class="box" style="left:773px;top:134.5px;width:152.10000000000002px;height:99.4px"></div>
<div class="box" style="left:800px;top:299.5px;width:150.10000000000002px;height:93.80000000000001px"></div>
<div class="box" style="left:29.75px;top:292.15px;width:150.25px;height:98.45000000000005px"></div>
<div class="t" style="left:270.60px;top:24.74px;font-size:7.0px;line-height:8.2px;color:#111;font-weight:normal;transform:scaleX(0.9251);transform-origin:0 0;-webkit-text-stroke:0.05px #111">Высокоэффективная лопасть<br>крыльевого вида;<br>Высокое давление и большой<br>объем воздуха;<br>Электродвигатель,<br>изготовленный полностью из<br>алюминиевого сплава;<br>Стойкость к высокой температуре,<br>высокая категория защиты;<br>Стойкость к коррозии, длинный срок<br>службы.</div>
<div class="t" style="left:70.00px;top:142.31px;font-size:6.8px;line-height:6.59px;color:#111;font-weight:normal;transform:scaleX(0.9382);transform-origin:0 0;-webkit-text-stroke:0.05px #111">Достаточное горение, экономит<br>расходные топлива;<br>Большая площадь<br>поверхности теплообмена<br>обеспечивает хорошую<br>эффективность<br>теплообмена;<br>Несложная эксплуатация, удобно<br>для очистки;<br>Техника горения при<br>положительном/отрицательном<br>давлении;<br>Большой выбор по ассортиментам угля.</div>
<div class="t" style="left:614.60px;top:34.33px;font-size:7.0px;line-height:9.82px;color:#111;font-weight:normal;transform:scaleX(0.9192);transform-origin:0 0;-webkit-text-stroke:0.05px #111">Высокая степень автоматизации;<br>Точное управление;<br>Простая эксплуатация;<br>Четкое показание удобно для<br>наблюдения;<br>Красивый внешний вид,<br>крепкий, защита от пыли.</div>
<div class="t" style="left:833.50px;top:157.35px;font-size:7.0px;line-height:9.77px;color:#111;font-weight:normal;transform:scaleX(0.9194);transform-origin:0 0;-webkit-text-stroke:0.05px #111">Удобность в установке<br>Неизменяемость формы;<br>Тесное закрытие<br>Высокая точность управления;<br>Длинный срок службы.</div>
<div class="t" style="left:853.10px;top:313.91px;font-size:7.0px;line-height:9.66px;color:#111;font-weight:normal;transform:scaleX(0.9234);transform-origin:0 0;-webkit-text-stroke:0.05px #111">Лопастная конструкция из<br>алюминиевого сплава;<br>Гибкое открытие/закрытие;<br>Надежность герметичности;<br>Стойкость к коррозии, длинный с<br>рок службы.</div>
<div class="t" style="left:37.00px;top:296.79px;font-size:7.0px;line-height:8.1px;color:#111;font-weight:normal;transform:scaleX(0.9318);transform-origin:0 0;-webkit-text-stroke:0.05px #111">Воздуходувка с оболочкой из<br>листовой стали;<br>Низкая степень шума, большое<br>количество дутья;<br>Широкий диапазон напряжения<br>220В+/-20%S<br>Можно регулировать сооть<br>одновременно вентилятора<br>поддержания горения<br>положительного и отрицательного<br>давления.</div>
<div class="circ" style="left:362.60px;top:18.95px;width:100.3px;height:100.3px"></div>
<div class="circ" style="left:161.60px;top:133.85px;width:100.3px;height:100.3px"></div>
<div class="circ" style="left:512.90px;top:20.10px;width:100.1px;height:100.1px"></div>
<div class="circ" style="left:724.00px;top:133.80px;width:100.2px;height:100.2px"></div>
<div class="circ" style="left:753.40px;top:298.75px;width:94.3px;height:94.3px"></div>
<div class="circ" style="left:129.15px;top:290.05px;width:100.3px;height:100.3px"></div>
<svg width="972" height="430"><defs>
<linearGradient id="gcyl2" x1="0" x2="1"><stop offset="0" stop-color="#9c9c9c"/><stop offset="0.4" stop-color="#f4f4f4"/><stop offset="0.75" stop-color="#d0d0d0"/><stop offset="1" stop-color="#8c8c8c"/></linearGradient>
<linearGradient id="gmot" x1="0" x2="0" y1="0" y2="1"><stop offset="0" stop-color="#a8acb0"/><stop offset="0.35" stop-color="#d8dadc"/><stop offset="0.7" stop-color="#989ca2"/><stop offset="1" stop-color="#6e7278"/></linearGradient>
<radialGradient id="gvol" cx="0.45" cy="0.45" r="0.65"><stop offset="0" stop-color="#c8cbce"/><stop offset="0.6" stop-color="#9a9ea4"/><stop offset="1" stop-color="#6e7278"/></radialGradient>
<linearGradient id="glcd" x1="0" x2="0" y1="0" y2="1"><stop offset="0" stop-color="#a8d890"/><stop offset="1" stop-color="#78b860"/></linearGradient>
</defs>
<clipPath id="cc1"><circle cx="412.75" cy="69.1" r="47.1"/></clipPath><clipPath id="cc2"><circle cx="211.75" cy="184.0" r="47.1"/></clipPath><clipPath id="cc3"><circle cx="562.95" cy="70.15" r="47"/></clipPath><clipPath id="cc4"><circle cx="774.1" cy="183.9" r="47"/></clipPath><clipPath id="cc5"><circle cx="800.55" cy="345.9" r="44"/></clipPath><clipPath id="cc6"><circle cx="179.3" cy="340.2" r="47.1"/></clipPath>
<g clip-path="url(#cc1)">
<ellipse cx="422.2" cy="63.4" rx="18.6" ry="27.2" fill="#57687e"/>
<ellipse cx="413" cy="63" rx="20.6" ry="27.6" fill="#f2f3f4" stroke="#9aa3ac" stroke-width="0.7"/>
<ellipse cx="414.2" cy="63.4" rx="18.6" ry="25.4" fill="#52627a"/>
<ellipse cx="416.6" cy="62.3" rx="14.6" ry="21.4" fill="#f4f5f6"/>
<path d="M409,63 L402,44 M409,63 L430,57 M409,63 L428,80 M409,63 L400,83" stroke="#36404c" stroke-width="1.6"/>
<path d="M409,61.5 C410,51 416,43.5 424,41.5 C428.5,46 427,55 420.5,60 C416,63 412,64 409,63 Z" fill="#d9dcdf" stroke="#8e959c" stroke-width="0.45"/>
<path d="M407,64 C402,63 397,65 395,70 C399,72.5 404,71 408,67 Z" fill="#e3e5e7" stroke="#8e959c" stroke-width="0.45"/>
<path d="M410.5,66 C413.5,73 415.5,80 414.5,88 C409,87.5 405.5,80 406.5,70 Z" fill="#d3d6d9" stroke="#8e959c" stroke-width="0.45"/>
<circle cx="408.9" cy="63.5" r="3.6" fill="#cdd1d5" stroke="#68707a" stroke-width="0.6"/><circle cx="408.9" cy="63.5" r="1.4" fill="#9aa0a6"/>
<ellipse cx="413" cy="63" rx="20.6" ry="27.6" fill="none" stroke="#eceff2" stroke-width="2.4"/>
<ellipse cx="413" cy="63" rx="21.9" ry="28.8" fill="none" stroke="#8d98a3" stroke-width="0.5"/>
</g><g clip-path="url(#cc2)">
<rect x="187" y="133" width="3.2" height="23" fill="#fafafa" stroke="#8a8a8a" stroke-width="0.6"/>
<rect x="184" y="153.5" width="11" height="3" fill="#e8e8e8" stroke="#8a8a8a" stroke-width="0.5"/>
<rect x="194.9" y="150.7" width="30" height="18.6" rx="2" fill="#e6e6e6" stroke="#888" stroke-width="0.6"/>
<rect x="199" y="154.6" width="20" height="2.2" fill="#6c6c6c"/>
<rect x="199" y="159.2" width="20" height="2.2" fill="#6c6c6c"/>
<rect x="199" y="163.8" width="20" height="2.2" fill="#6c6c6c"/>
<rect x="195.4" y="151.3" width="3.6" height="17.7" fill="#f6f6f6" stroke="#888" stroke-width="0.4"/><rect x="219.3" y="151.3" width="3.6" height="17.7" fill="#f6f6f6" stroke="#888" stroke-width="0.4"/>
<rect x="224.5" y="151.5" width="8.5" height="17" rx="2" fill="#c8c8c8" stroke="#777" stroke-width="0.5"/>
<path d="M226,156 L231,162 M231,156 L226,162" stroke="#666" stroke-width="0.7"/>
<rect x="203.3" y="172" width="21.4" height="34.6" fill="url(#gcyl2)" stroke="#777" stroke-width="0.5"/>
<ellipse cx="214" cy="172.8" rx="10.7" ry="3.4" fill="#5a5a5a" stroke="#888" stroke-width="0.6"/>
<rect x="196.8" y="186.1" width="17.7" height="11.2" fill="#b4b4b4" stroke="#777" stroke-width="0.5"/>
<rect x="199" y="188" width="9" height="7.5" fill="#c4c4c4"/>
<rect x="197.7" y="201" width="19.6" height="10.3" fill="#bcbcbc" stroke="#777" stroke-width="0.5"/>
<rect x="200" y="203" width="8" height="6" fill="#d0d0d0"/>
</g><g clip-path="url(#cc3)">
<rect x="545.4" y="35.9" width="39.1" height="57.4" rx="1" fill="#e4e8eb" stroke="#9aa2aa" stroke-width="0.6"/>
<rect x="577" y="37" width="7" height="55" fill="#f4f6f8" stroke="#b0b8c0" stroke-width="0.4"/>
<rect x="546.2" y="38.3" width="30.2" height="52.5" fill="#283a8e"/>
<rect x="549" y="39.8" width="25" height="2" fill="#b89040"/>
<rect x="550" y="43" width="23" height="17" fill="url(#glcd)" stroke="#1a2a60" stroke-width="0.5"/>
<text x="551.5" y="50.5" font-size="5" font-family="Liberation Mono" fill="#1a3018">213 235</text>
<rect x="552" y="52.5" width="18" height="0.8" fill="#4a7040"/><rect x="552" y="55" width="14" height="0.8" fill="#4a7040"/><rect x="552" y="57.5" width="16" height="0.8" fill="#4a7040"/>
<circle cx="549.5" cy="65.5" r="1.5" fill="#d83020"/>
<circle cx="552.8" cy="65.5" r="1.5" fill="#f0c020"/>
<circle cx="557.5" cy="65.5" r="1.5" fill="#f4f4f4"/>
<circle cx="561.5" cy="65.5" r="1.5" fill="#f4f4f4"/>
<circle cx="566.5" cy="65.5" r="1.5" fill="#2050d0"/>
<circle cx="570.5" cy="65.5" r="1.5" fill="#d83020"/>
<rect x="549" y="69.5" width="24" height="0.9" fill="#8090c8"/>
<rect x="549" y="72.5" width="24" height="0.9" fill="#8090c8"/>
<rect x="549" y="75.5" width="24" height="0.9" fill="#8090c8"/>
<rect x="549.0" y="78.6" width="3.4" height="5" fill="#e04020"/>
<rect x="553.0" y="78.6" width="3.4" height="5" fill="#f08020"/>
<rect x="557.0" y="78.6" width="3.4" height="5" fill="#d03020"/>
<rect x="561.0" y="78.6" width="3.4" height="5" fill="#f0b020"/>
<rect x="565.0" y="78.6" width="3.4" height="5" fill="#e05020"/>
<rect x="569.0" y="78.6" width="3.4" height="5" fill="#f0a030"/>
<rect x="549" y="86" width="24" height="1.4" fill="#d04040"/>
</g><g clip-path="url(#cc4)">
<polygon points="745.4,153.4 793.2,166.1 792,194.6 750.3,174.6" fill="#eef1f3" stroke="#8a949e" stroke-width="0.6"/>
<line x1="746.6" y1="158.7" x2="792.9" y2="173.2" stroke="#b4bcc4" stroke-width="0.9"/>
<line x1="746.6" y1="160.0" x2="792.9" y2="174.5" stroke="#f8f9fa" stroke-width="0.9"/>
<line x1="747.8" y1="164.0" x2="792.6" y2="180.3" stroke="#b4bcc4" stroke-width="0.9"/>
<line x1="747.8" y1="165.3" x2="792.6" y2="181.7" stroke="#f8f9fa" stroke-width="0.9"/>
<line x1="749.1" y1="169.3" x2="792.3" y2="187.5" stroke="#b4bcc4" stroke-width="0.9"/>
<line x1="749.1" y1="170.6" x2="792.3" y2="188.8" stroke="#f8f9fa" stroke-width="0.9"/>
<polygon points="745.4,153.4 793.2,166.1 793.1,169.6 745.6,157" fill="#c4ccd4" stroke="#7a8692" stroke-width="0.5"/>
<polygon points="750.3,174.6 792,194.6 792,191.2 749.8,171.4" fill="#d0d6dc" stroke="#8a949e" stroke-width="0.5"/>
<polygon points="745.4,153.4 750.3,174.6 753,175.5 748.3,154.2" fill="#b8c2cc" stroke="#7a8490" stroke-width="0.4"/>
<polygon points="789.8,165.2 793.2,166.1 792,194.6 788.8,193" fill="#c4ccd4" stroke="#7a8490" stroke-width="0.4"/>
<rect x="793" y="174.5" width="13.5" height="16" fill="#eeeeee" stroke="#999" stroke-width="0.5"/>
<rect x="793" y="174.5" width="3" height="16" fill="#cfcfcf"/>
<ellipse cx="787.5" cy="200" rx="7.5" ry="3.6" fill="none" stroke="#111" stroke-width="1.1"/>
<path d="M795,190 Q794,197 788,199.5 M781,201 Q778,203.5 783,205" fill="none" stroke="#111" stroke-width="0.9"/>
</g><g clip-path="url(#cc5)">
<polygon points="801.3,318.2 827,321.4 830.6,364.6 797.6,367" fill="#eef0f2" stroke="#b4bcc4" stroke-width="1.5"/>
<line x1="801.0" y1="321.7" x2="827.3" y2="324.5" stroke="#c8ced4" stroke-width="1.1"/>
<line x1="800.8" y1="325.2" x2="827.5" y2="327.6" stroke="#c8ced4" stroke-width="1.1"/>
<line x1="800.5" y1="328.7" x2="827.8" y2="330.7" stroke="#c8ced4" stroke-width="1.1"/>
<line x1="800.2" y1="332.1" x2="828.0" y2="333.7" stroke="#c8ced4" stroke-width="1.1"/>
<line x1="800.0" y1="335.6" x2="828.3" y2="336.8" stroke="#c8ced4" stroke-width="1.1"/>
<line x1="799.7" y1="339.1" x2="828.5" y2="339.9" stroke="#c8ced4" stroke-width="1.1"/>
<line x1="799.5" y1="342.6" x2="828.8" y2="343.0" stroke="#c8ced4" stroke-width="1.1"/>
<line x1="799.2" y1="346.1" x2="829.1" y2="346.1" stroke="#c8ced4" stroke-width="1.1"/>
<line x1="798.9" y1="349.6" x2="829.3" y2="349.2" stroke="#c8ced4" stroke-width="1.1"/>
<line x1="798.7" y1="353.1" x2="829.6" y2="352.3" stroke="#c8ced4" stroke-width="1.1"/>
<line x1="798.4" y1="356.5" x2="829.8" y2="355.3" stroke="#c8ced4" stroke-width="1.1"/>
<line x1="798.1" y1="360.0" x2="830.1" y2="358.4" stroke="#c8ced4" stroke-width="1.1"/>
<line x1="797.9" y1="363.5" x2="830.3" y2="361.5" stroke="#c8ced4" stroke-width="1.1"/>
<polygon points="775.6,323.8 801.3,318.2 797.6,369.5 770.8,364.6" fill="#f4f5f6" stroke="#9eacba" stroke-width="1.6"/>
<line x1="775.3" y1="326.5" x2="801.1" y2="321.6" stroke="#c0c6cc" stroke-width="1.1"/>
<line x1="775.0" y1="329.2" x2="800.8" y2="325.0" stroke="#c0c6cc" stroke-width="1.1"/>
<line x1="774.6" y1="332.0" x2="800.6" y2="328.5" stroke="#c0c6cc" stroke-width="1.1"/>
<line x1="774.3" y1="334.7" x2="800.3" y2="331.9" stroke="#c0c6cc" stroke-width="1.1"/>
<line x1="774.0" y1="337.4" x2="800.1" y2="335.3" stroke="#c0c6cc" stroke-width="1.1"/>
<line x1="773.7" y1="340.1" x2="799.8" y2="338.7" stroke="#c0c6cc" stroke-width="1.1"/>
<line x1="773.4" y1="342.8" x2="799.6" y2="342.1" stroke="#c0c6cc" stroke-width="1.1"/>
<line x1="773.0" y1="345.6" x2="799.3" y2="345.6" stroke="#c0c6cc" stroke-width="1.1"/>
<line x1="772.7" y1="348.3" x2="799.1" y2="349.0" stroke="#c0c6cc" stroke-width="1.1"/>
<line x1="772.4" y1="351.0" x2="798.8" y2="352.4" stroke="#c0c6cc" stroke-width="1.1"/>
<line x1="772.1" y1="353.7" x2="798.6" y2="355.8" stroke="#c0c6cc" stroke-width="1.1"/>
<line x1="771.8" y1="356.4" x2="798.3" y2="359.2" stroke="#c0c6cc" stroke-width="1.1"/>
<line x1="771.4" y1="359.2" x2="798.1" y2="362.7" stroke="#c0c6cc" stroke-width="1.1"/>
<line x1="771.1" y1="361.9" x2="797.8" y2="366.1" stroke="#c0c6cc" stroke-width="1.1"/>
<line x1="801.3" y1="318.2" x2="797.6" y2="369.5" stroke="#7e96ae" stroke-width="1.5"/>
</g><g clip-path="url(#cc6)">
<path d="M150,349 L166,338 L176,350 L160,361 Z" fill="#b8bcc0" stroke="#70747a" stroke-width="0.5"/>
<ellipse cx="153.5" cy="355" rx="3.6" ry="5.2" fill="#3e4248" stroke="#a0a4a8" stroke-width="0.9" transform="rotate(-35 153.5 355)"/>
<path d="M166,355 L180,349 L182,357 L170,364 Z" fill="#5c6068"/>
<ellipse cx="178.6" cy="324" rx="18.3" ry="22.5" fill="url(#gvol)" stroke="#6c7076" stroke-width="0.6"/>
<ellipse cx="176.5" cy="320" rx="14" ry="17.5" fill="none" stroke="#d8dadc" stroke-width="1.4"/>
<ellipse cx="176.5" cy="320" rx="12.5" ry="15.8" fill="none" stroke="#8a8e94" stroke-width="0.7"/>
<path d="M182,318 L204,317.6 L204,344.6 L182,345 Z" fill="url(#gmot)"/>
<ellipse cx="204.3" cy="331.1" rx="6.4" ry="13.5" fill="#c8ccd0" stroke="#7a7e84" stroke-width="0.6"/>
<ellipse cx="205.2" cy="331.5" rx="3.6" ry="8" fill="#a8acb2"/>
<circle cx="189" cy="320" r="0.8" fill="#d8b040"/><circle cx="196" cy="333" r="0.8" fill="#d8b040"/>
</g></svg>
<div class="t" style="left:316.30px;top:93.17px;width:200px;text-align:center;font-size:8.1px;line-height:9.4px;color:#000;font-weight:normal;transform-origin:50% 0;-webkit-text-stroke:0.06px #000">Вентилятор<br>циркуляции</div>
<div class="t" style="left:111.80px;top:212.10px;width:200px;text-align:center;font-size:7.4px;line-height:7.6px;color:#000;font-weight:normal;transform-origin:50% 0;">Оборудование<br>теплоснабжения</div>
<div class="t" style="left:462.70px;top:95.66px;width:200px;text-align:center;font-size:6.5px;line-height:6.7px;color:#000;font-weight:normal;transform-origin:50% 0;">Аппарат управления<br>влажностью и<br>температурой</div>
<div class="t" style="left:674.70px;top:212.89px;width:200px;text-align:center;font-size:6.55px;line-height:7.0px;color:#000;font-weight:normal;transform-origin:50% 0;">Затвор холодного<br>воздуха</div>
<div class="t" style="left:703.30px;top:374.82px;width:200px;text-align:center;font-size:6.45px;line-height:8px;color:#000;font-weight:normal;transform-origin:50% 0;">Влагоотделитель</div>
<div class="t" style="left:77.40px;top:367.49px;width:200px;text-align:center;font-size:7.5px;line-height:6.15px;color:#1a1a1a;font-weight:bold;transform-origin:50% 0;-webkit-text-stroke:0.05px #111">Вентилятор<br>поддержания<br>горения</div>
</body></html>
